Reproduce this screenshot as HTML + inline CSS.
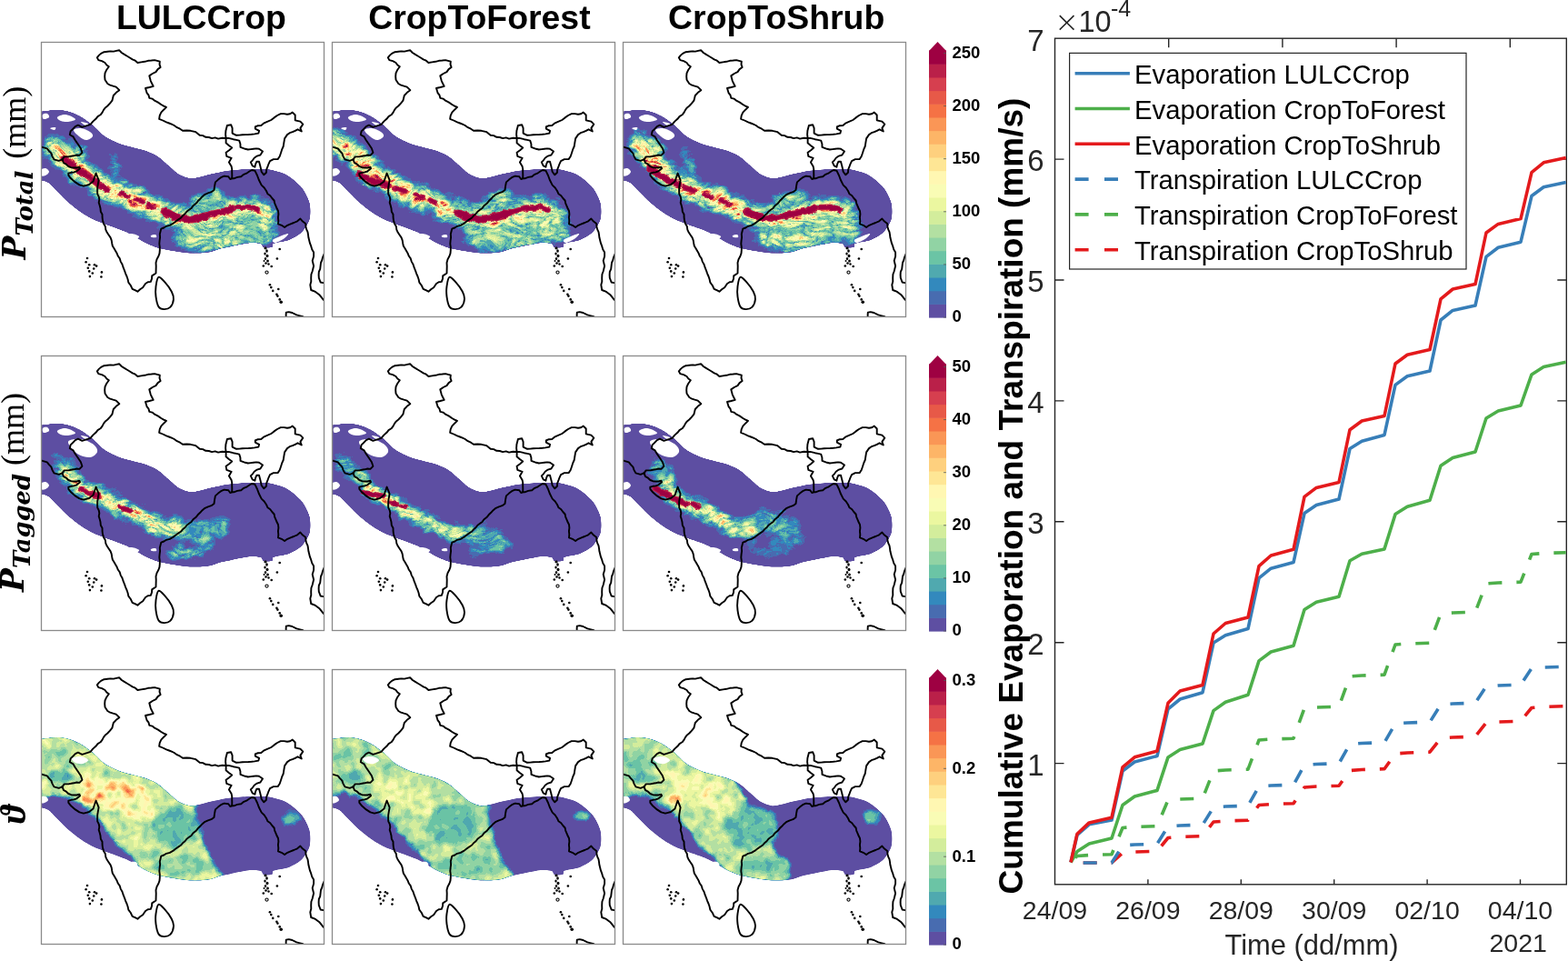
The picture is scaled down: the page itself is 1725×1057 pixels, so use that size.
<!DOCTYPE html>
<html><head><meta charset="utf-8"><title>Figure</title>
<style>html,body{margin:0;padding:0;background:#fff;overflow:hidden}svg{display:block}</style>
</head><body>
<svg width="1725" height="1057" viewBox="0 0 1725 1057">
<rect width="1725" height="1057" fill="#fff"/>

<defs>
<clipPath id="pc"><rect x="0" y="0" width="312" height="303"/></clipPath>
<clipPath id="bc"><path d="M-6.0,77.0 C-5.2,67.0 -3.1,77.3 0.0,77.0 C3.1,76.7 13.1,75.1 17.0,75.0 C20.9,74.9 25.5,75.6 29.0,76.5 C32.5,77.4 39.3,79.9 43.0,82.0 C46.7,84.1 53.4,89.1 57.0,92.0 C60.6,94.9 66.1,101.3 70.0,104.0 C73.9,106.7 82.0,110.4 86.0,112.0 C90.0,113.6 96.1,114.9 100.0,116.0 C103.9,117.1 111.3,118.7 115.0,120.0 C118.7,121.3 124.7,123.9 128.0,126.0 C131.3,128.1 136.8,133.3 140.0,136.0 C143.2,138.7 148.5,144.1 152.0,146.0 C155.5,147.9 161.5,150.5 166.0,150.5 C170.5,150.5 180.7,147.1 186.0,146.0 C191.3,144.9 200.3,142.8 206.0,142.0 C211.7,141.2 223.2,140.5 229.0,140.3 C234.8,140.1 244.1,139.7 249.5,140.5 C254.9,141.3 264.6,143.6 269.6,146.3 C274.6,149.0 283.4,156.4 286.8,160.6 C290.2,164.8 294.3,173.2 295.4,177.8 C296.5,182.4 296.5,190.8 295.4,195.0 C294.3,199.2 289.9,206.2 286.8,209.3 C283.7,212.4 276.5,216.4 272.4,218.0 C268.3,219.6 258.5,220.5 256.0,221.5 C253.5,222.5 255.5,225.2 254.0,225.8 C252.5,226.4 246.6,226.3 245.0,225.8 C243.4,225.3 244.1,222.6 242.0,222.0 C239.9,221.4 234.9,220.4 229.4,221.0 C223.9,221.6 206.4,225.3 200.7,226.6 C195.0,227.9 191.0,230.1 186.4,230.9 C181.8,231.7 172.0,232.5 166.3,232.3 C160.6,232.1 148.4,230.2 143.4,229.4 C138.4,228.6 132.8,227.7 129.0,226.6 C125.2,225.5 119.3,223.1 114.7,220.8 C110.1,218.5 100.3,212.0 94.6,209.3 C88.9,206.6 76.7,202.6 71.7,200.7 C66.7,198.8 61.2,196.9 57.4,195.0 C53.6,193.1 46.8,189.1 43.0,186.4 C39.2,183.7 32.1,178.1 28.7,175.0 C25.3,171.9 19.9,166.2 17.2,163.5 C14.5,160.8 10.9,156.5 8.6,155.0 C6.3,153.5 1.9,152.4 0.0,152.0 C-1.9,151.6 -5.2,162.0 -6.0,152.0 C-6.8,142.0 -6.8,87.0 -6.0,77.0Z"/></clipPath>
<g id="ol"><g fill="none" stroke="#000" stroke-width="1.9" stroke-linejoin="round" stroke-linecap="round"><path d="M23.5,129.4 L25.0,133.2 L27.9,134.7 L30.3,137.0 L33.2,138.2 L36.3,138.5 L39.4,138.5 L42.4,137.7 L43.1,139.3 L39.4,142.3 L36.4,143.4 L33.3,143.8 L30.3,144.6 L30.3,146.8 L33.3,150.6 L37.8,154.4 L42.4,157.4 L46.9,158.6 L49.9,157.8 L53.0,157.0 L57.5,153.6 L58.6,150.2 L59.8,146.8 L60.6,144.6 L62.1,148.3 L63.6,152.1 L62.8,156.7 L62.2,160.3 L62.1,164.0 L62.2,167.3 L63.7,170.3 L64.3,173.5 L63.7,176.9 L64.7,180.0 L65.5,183.3 L65.8,186.7 L67.5,189.8 L67.6,193.3 L68.0,196.6 L69.0,199.9 L70.8,203.0 L71.3,206.6 L72.8,209.8 L74.8,212.8 L76.6,215.4 L77.7,218.3 L78.2,221.5 L78.8,224.5 L80.5,227.2 L82.1,230.0 L83.7,232.8 L84.9,235.8 L86.8,238.4 L87.7,241.6 L89.5,244.8 L90.6,248.2 L92.0,251.6 L93.1,254.8 L94.5,258.0 L95.6,261.2 L96.3,264.6 L98.8,268.0 L100.6,271.8 L103.5,273.2 L106.4,274.7 L109.1,272.3 L112.1,270.3 L115.0,266.0 L117.7,264.3 L120.8,263.9 L122.0,260.7 L122.2,257.4 L126.5,254.5 L126.6,250.7 L126.7,246.8 L126.5,243.0 L127.5,239.2 L129.4,235.8 L130.5,232.6 L130.8,229.2 L130.8,225.8 L130.3,222.2 L130.6,218.6 L131.1,215.0 L130.8,211.4 L132.3,205.6 L135.3,204.5 L138.0,202.8 L141.8,201.9 L145.2,199.9 L148.0,197.7 L151.0,195.6 L153.8,193.8 L156.0,191.3 L158.5,189.3 L160.4,186.7 L163.0,184.8 L165.6,182.9 L167.5,180.3 L170.4,178.1 L172.6,175.3 L175.2,172.8 L177.6,170.2 L180.5,167.8 L183.9,166.3 L187.5,165.2 L190.5,163.0 L191.1,158.7 L191.9,154.4 L195.0,151.6 L198.1,149.2 L201.6,147.6 L206.3,148.3 L208.2,151.0 L210.2,150.3 L210.3,146.7 L210.2,143.0 L210.2,140.0 L209.6,137.0 L206.9,132.4 L209.6,127.8 L204.3,125.8 L203.6,121.8 L207.1,119.3 L210.2,116.5 L206.8,114.0 L203.6,111.2 L203.6,106.0"/><path d="M203.6,106.0 L199.3,105.7 L195.0,106.6 L191.7,105.4 L188.1,106.1 L184.8,105.0 L181.3,104.8 L178.2,103.1 L174.7,102.8 L170.4,99.2 L164.6,97.8 L160.3,97.5 L156.0,97.8 L153.0,95.7 L149.7,94.2 L146.7,92.0 L143.9,90.7 L141.0,89.5 L138.0,88.4 L134.1,86.5 L130.1,84.8 L130.7,81.1 L132.3,77.6 L135.1,74.7 L138.0,71.9 L135.1,70.6 L132.3,69.0 L128.9,66.6 L125.1,64.7 L122.5,62.6 L119.3,61.8 L118.5,58.7 L116.5,56.1 L115.0,51.0 L119.4,50.0 L123.7,48.9 L122.2,46.0 L120.8,43.1 L119.3,37.4 L122.7,35.0 L126.5,33.1 L128.6,30.1 L131.6,28.0 L130.5,24.9 L130.8,21.6 L125.1,20.1 L121.5,20.5 L117.9,20.8 L114.1,21.8 L110.3,22.4 L106.4,23.0 L103.8,20.7 L100.7,19.4 L97.8,17.5 L94.9,15.8 L91.8,13.9 L88.8,12.0 L86.3,9.3 L83.1,9.9 L79.9,10.6 L76.5,10.4 L73.3,10.8 L69.5,11.2 L66.1,12.9 L63.8,14.9 L61.8,17.3 L63.3,20.1 L67.1,21.1 L70.5,23.0 L72.3,25.5 L74.8,27.3 L72.3,30.7 L70.5,34.5 L70.2,38.1 L70.5,41.7 L73.3,46.0 L76.2,47.7 L79.4,48.7 L82.7,49.6 L86.3,53.2 L82.8,55.8 L79.8,59.0 L78.4,64.7 L76.0,67.7 L73.3,70.5 L70.9,72.4 L69.0,74.8 L67.6,77.6 L65.5,80.3 L62.5,82.1 L60.4,84.8 L57.2,87.6 L54.5,90.8 L51.5,91.9 L48.4,92.8 L45.4,93.8 L40.9,91.6 L37.8,93.1 L35.2,95.8 L32.6,98.4 L31.8,102.2 L35.6,104.4 L37.8,108.2 L40.9,112.8 L43.9,117.3 L45.4,121.8 L42.4,124.9 L39.3,124.5 L36.3,125.3 L33.3,125.8 L30.3,126.4 L25.7,126.4 L23.5,129.4"/><path d="M203.6,106.0 L203.1,101.9 L203.4,97.8 L204.9,92.0 L209.2,91.3 L210.6,94.9 L210.6,100.6 L215.0,102.8 L218.3,102.6 L221.7,102.2 L225.0,102.1 L228.4,102.0 L231.7,101.8 L235.1,101.4 L239.4,100.6 L240.1,97.8 L235.8,95.6 L235.8,93.5 L238.9,92.2 L242.3,92.0 L245.6,89.3 L249.5,87.7 L253.3,86.0 L256.6,83.4 L260.0,81.0 L263.8,79.1 L267.4,79.1 L271.0,79.8 L274.1,79.3 L276.8,77.6 L279.7,80.5 L279.7,86.3 L285.4,87.7 L288.3,90.6 L285.4,94.9 L286.8,98.5 L282.5,96.3 L279.7,97.8 L276.8,99.2 L273.7,100.2 L271.0,102.1 L268.1,106.4 L267.4,110.7 L266.7,115.0 L265.1,118.7 L263.9,122.5 L262.7,126.0 L260.6,129.1 L255.9,129.1 L252.0,131.1 L250.5,134.3 L249.3,137.7 L248.1,140.6 L248.0,143.7 L245.3,146.3 L242.7,143.0 L242.1,140.0 L241.4,137.0 L240.0,131.7 L237.4,131.7 L236.1,134.6 L235.4,137.7 L232.7,136.4 L230.8,132.4 L232.9,130.3 L234.7,127.8 L237.8,125.6 L241.4,124.5 L244.0,120.5 L240.0,117.8 L237.0,117.4 L233.9,117.7 L230.9,118.1 L227.8,118.5 L224.8,117.8 L219.5,115.9 L219.4,112.2 L218.2,108.6 L214.9,107.9 L211.6,107.2 L206.3,105.9 L203.6,106.0"/><path d="M210.2,150.3 L212.2,150.3 L216.1,148.9 L220.2,148.3 L223.2,145.8 L226.8,144.3 L229.4,142.5 L232.1,141.0 L235.4,141.7 L238.0,147.0 L240.0,152.3 L242.7,157.6 L245.7,160.5 L248.0,164.0 L249.5,167.3 L252.3,169.3 L254.3,172.0 L256.6,174.5 L257.2,177.6 L258.4,180.4 L259.6,183.3 L261.0,186.0 L261.4,189.6 L260.9,193.2 L261.3,196.8 L261.0,200.4 L264.8,201.8 L268.1,204.0 L271.2,201.8 L274.7,200.3 L278.2,199.0 L282.1,197.3 L285.4,194.6 L288.0,197.6 L291.2,199.9 L291.4,203.1 L292.1,206.1 L293.5,209.1 L294.0,212.2 L294.4,215.3 L295.2,218.5 L296.0,221.7 L297.2,224.7 L298.2,228.2 L300.1,231.4 L300.1,236.1 L298.7,240.8 L300.1,246.5 L298.7,252.2 L297.4,255.8 L297.2,259.7 L297.3,263.6 L296.3,267.3 L297.2,273.0 L302.0,274.9 L306.7,278.6 L308.7,281.2 L310.7,283.7 L313.0,286.0"/><path d="M-1.0,115.5 L1.5,115.8 L6.8,117.3 L9.0,120.1 L11.4,122.6 L12.6,126.1 L14.4,129.4 L19.7,130.9 L23.5,129.4"/><path d="M313.0,231.0 L311.4,233.8 L310.1,236.8 L309.3,240.0 L308.0,243.0 L307.6,246.4 L307.2,249.8 L305.8,253.0 L305.6,256.4 L305.8,259.7 L307.6,264.5 L313.0,265.6"/><path d="M269.8,304.0 L269.6,300.8 L269.8,297.6 L272.7,297.1 L276.4,298.0 L281.2,300.4 L285.0,301.3 L288.2,302.2 L291.0,304.0"/><path d="M129.4,258.8 C131.1,258.1 134.2,262.0 136.6,264.6 C139.0,267.2 142.2,271.6 143.8,274.7 C145.4,277.8 146.2,280.4 145.9,283.3 C145.7,286.2 144.1,290.1 142.3,291.9 C140.5,293.7 137.3,294.2 135.2,294.1 C133.0,294.0 130.8,293.5 129.4,291.2 C128.0,288.9 127.0,284.1 126.5,280.4 C126.0,276.7 126.0,272.5 126.5,268.9 C127.0,265.3 127.7,259.5 129.4,258.8Z"/></g><g fill="#000"><circle cx="51.0" cy="238.0" r="1.3"/><circle cx="49.6" cy="242.3" r="1.3"/><circle cx="53.2" cy="245.2" r="1.3"/><circle cx="59.0" cy="245.2" r="1.3"/><circle cx="61.1" cy="246.6" r="1.3"/><circle cx="51.8" cy="248.8" r="1.3"/><circle cx="58.2" cy="249.5" r="1.3"/><circle cx="53.2" cy="252.4" r="1.3"/><circle cx="56.8" cy="254.5" r="1.3"/><circle cx="66.9" cy="253.4" r="1.3"/><circle cx="53.9" cy="258.1" r="1.3"/><circle cx="66.4" cy="258.5" r="1.3"/><circle cx="262.7" cy="228.0" r="1.3"/><circle cx="259.9" cy="238.5" r="1.3"/><circle cx="244.8" cy="246.5" r="1.3"/><circle cx="253.7" cy="247.0" r="1.3"/><circle cx="251.9" cy="267.3" r="1.3"/><circle cx="253.3" cy="270.1" r="1.3"/><circle cx="255.2" cy="273.9" r="1.3"/><circle cx="261.3" cy="272.0" r="1.3"/><circle cx="259.4" cy="277.7" r="1.3"/><circle cx="260.4" cy="279.6" r="1.3"/><circle cx="262.7" cy="283.4" r="1.3"/><ellipse cx="247.0" cy="227.0" rx="1.6" ry="1.4"/><ellipse cx="248.5" cy="230.0" rx="1.3" ry="1.8"/><ellipse cx="246.5" cy="233.0" rx="1.2" ry="1.6"/><ellipse cx="249.0" cy="235.5" rx="1.5" ry="1.8"/><ellipse cx="247.0" cy="238.5" rx="1.2" ry="1.5"/><ellipse cx="249.5" cy="241.0" rx="1.4" ry="1.6"/><ellipse cx="247.5" cy="243.5" rx="1.3" ry="1.3"/><ellipse cx="250.5" cy="244.5" rx="1.2" ry="1.2"/><ellipse cx="245.5" cy="241.0" rx="1.0" ry="1.0"/><circle cx="264.2" cy="286.2" r="1.8"/></g><circle cx="248.5" cy="253.6" r="1.6" fill="none" stroke="#000" stroke-width="1.1"/></g>
<filter id="cm0" x="-0.05" y="-0.05" width="1.1" height="1.1" color-interpolation-filters="sRGB">
<feTurbulence type="turbulence" baseFrequency="0.07 0.16" numOctaves="3" seed="3" result="n0"/>
<feTurbulence type="fractalNoise" baseFrequency="0.035" numOctaves="1" seed="53" result="w"/>
<feDisplacementMap in="n0" in2="w" scale="30" xChannelSelector="R" yChannelSelector="G" result="n1"/>
<feColorMatrix in="n1" type="matrix" values="1 0 0 0 0 1 0 0 0 0 1 0 0 0 0 0 0 0 0 1" result="ng"/>
<feComposite in="SourceGraphic" in2="ng" operator="arithmetic" k1="2.20" k2="0.45" k3="0" k4="0" result="m"/>
<feComponentTransfer in="m"><feFuncR type="discrete" tableValues="0.3686 0.2824 0.2000 0.3137 0.4196 0.5686 0.7020 0.8275 0.9216 0.9765 1.0000 0.9961 0.9961 0.9922 0.9804 0.9608 0.9059 0.8392 0.7294 0.6196"/><feFuncG type="discrete" tableValues="0.3098 0.4235 0.5373 0.6627 0.7686 0.8275 0.8784 0.9294 0.9686 0.9882 0.9686 0.9020 0.8157 0.7098 0.5882 0.4471 0.3490 0.2471 0.1255 0.0039"/><feFuncB type="discrete" tableValues="0.6353 0.6902 0.7412 0.6863 0.6471 0.6431 0.6353 0.6118 0.6275 0.7098 0.6980 0.5843 0.4941 0.4039 0.3373 0.2706 0.2824 0.3098 0.2863 0.2588"/></feComponentTransfer>
</filter>
<filter id="bd0" x="-0.1" y="-0.1" width="1.2" height="1.2" color-interpolation-filters="sRGB">
<feGaussianBlur in="SourceGraphic" stdDeviation="3.5" result="b"/>
<feTurbulence type="turbulence" baseFrequency="0.05 0.08" numOctaves="2" seed="23" result="t"/>
<feDisplacementMap in="b" in2="t" scale="10" xChannelSelector="R" yChannelSelector="G"/>
</filter>
<filter id="cm1" x="-0.05" y="-0.05" width="1.1" height="1.1" color-interpolation-filters="sRGB">
<feTurbulence type="turbulence" baseFrequency="0.07 0.16" numOctaves="3" seed="7" result="n0"/>
<feTurbulence type="fractalNoise" baseFrequency="0.035" numOctaves="1" seed="57" result="w"/>
<feDisplacementMap in="n0" in2="w" scale="30" xChannelSelector="R" yChannelSelector="G" result="n1"/>
<feColorMatrix in="n1" type="matrix" values="1 0 0 0 0 1 0 0 0 0 1 0 0 0 0 0 0 0 0 1" result="ng"/>
<feComposite in="SourceGraphic" in2="ng" operator="arithmetic" k1="2.20" k2="0.45" k3="0" k4="0" result="m"/>
<feComponentTransfer in="m"><feFuncR type="discrete" tableValues="0.3686 0.2824 0.2000 0.3137 0.4196 0.5686 0.7020 0.8275 0.9216 0.9765 1.0000 0.9961 0.9961 0.9922 0.9804 0.9608 0.9059 0.8392 0.7294 0.6196"/><feFuncG type="discrete" tableValues="0.3098 0.4235 0.5373 0.6627 0.7686 0.8275 0.8784 0.9294 0.9686 0.9882 0.9686 0.9020 0.8157 0.7098 0.5882 0.4471 0.3490 0.2471 0.1255 0.0039"/><feFuncB type="discrete" tableValues="0.6353 0.6902 0.7412 0.6863 0.6471 0.6431 0.6353 0.6118 0.6275 0.7098 0.6980 0.5843 0.4941 0.4039 0.3373 0.2706 0.2824 0.3098 0.2863 0.2588"/></feComponentTransfer>
</filter>
<filter id="bd1" x="-0.1" y="-0.1" width="1.2" height="1.2" color-interpolation-filters="sRGB">
<feGaussianBlur in="SourceGraphic" stdDeviation="3.5" result="b"/>
<feTurbulence type="turbulence" baseFrequency="0.05 0.08" numOctaves="2" seed="27" result="t"/>
<feDisplacementMap in="b" in2="t" scale="10" xChannelSelector="R" yChannelSelector="G"/>
</filter>
<filter id="cm2" x="-0.05" y="-0.05" width="1.1" height="1.1" color-interpolation-filters="sRGB">
<feTurbulence type="turbulence" baseFrequency="0.07 0.16" numOctaves="3" seed="11" result="n0"/>
<feTurbulence type="fractalNoise" baseFrequency="0.035" numOctaves="1" seed="61" result="w"/>
<feDisplacementMap in="n0" in2="w" scale="30" xChannelSelector="R" yChannelSelector="G" result="n1"/>
<feColorMatrix in="n1" type="matrix" values="1 0 0 0 0 1 0 0 0 0 1 0 0 0 0 0 0 0 0 1" result="ng"/>
<feComposite in="SourceGraphic" in2="ng" operator="arithmetic" k1="2.20" k2="0.45" k3="0" k4="0" result="m"/>
<feComponentTransfer in="m"><feFuncR type="discrete" tableValues="0.3686 0.2824 0.2000 0.3137 0.4196 0.5686 0.7020 0.8275 0.9216 0.9765 1.0000 0.9961 0.9961 0.9922 0.9804 0.9608 0.9059 0.8392 0.7294 0.6196"/><feFuncG type="discrete" tableValues="0.3098 0.4235 0.5373 0.6627 0.7686 0.8275 0.8784 0.9294 0.9686 0.9882 0.9686 0.9020 0.8157 0.7098 0.5882 0.4471 0.3490 0.2471 0.1255 0.0039"/><feFuncB type="discrete" tableValues="0.6353 0.6902 0.7412 0.6863 0.6471 0.6431 0.6353 0.6118 0.6275 0.7098 0.6980 0.5843 0.4941 0.4039 0.3373 0.2706 0.2824 0.3098 0.2863 0.2588"/></feComponentTransfer>
</filter>
<filter id="bd2" x="-0.1" y="-0.1" width="1.2" height="1.2" color-interpolation-filters="sRGB">
<feGaussianBlur in="SourceGraphic" stdDeviation="3.5" result="b"/>
<feTurbulence type="turbulence" baseFrequency="0.05 0.08" numOctaves="2" seed="31" result="t"/>
<feDisplacementMap in="b" in2="t" scale="10" xChannelSelector="R" yChannelSelector="G"/>
</filter>
<filter id="cm3" x="-0.05" y="-0.05" width="1.1" height="1.1" color-interpolation-filters="sRGB">
<feTurbulence type="turbulence" baseFrequency="0.07 0.16" numOctaves="3" seed="5" result="n0"/>
<feTurbulence type="fractalNoise" baseFrequency="0.035" numOctaves="1" seed="55" result="w"/>
<feDisplacementMap in="n0" in2="w" scale="30" xChannelSelector="R" yChannelSelector="G" result="n1"/>
<feColorMatrix in="n1" type="matrix" values="1 0 0 0 0 1 0 0 0 0 1 0 0 0 0 0 0 0 0 1" result="ng"/>
<feComposite in="SourceGraphic" in2="ng" operator="arithmetic" k1="2.20" k2="0.45" k3="0" k4="0" result="m"/>
<feComponentTransfer in="m"><feFuncR type="discrete" tableValues="0.3686 0.2824 0.2000 0.3137 0.4196 0.5686 0.7020 0.8275 0.9216 0.9765 1.0000 0.9961 0.9961 0.9922 0.9804 0.9608 0.9059 0.8392 0.7294 0.6196"/><feFuncG type="discrete" tableValues="0.3098 0.4235 0.5373 0.6627 0.7686 0.8275 0.8784 0.9294 0.9686 0.9882 0.9686 0.9020 0.8157 0.7098 0.5882 0.4471 0.3490 0.2471 0.1255 0.0039"/><feFuncB type="discrete" tableValues="0.6353 0.6902 0.7412 0.6863 0.6471 0.6431 0.6353 0.6118 0.6275 0.7098 0.6980 0.5843 0.4941 0.4039 0.3373 0.2706 0.2824 0.3098 0.2863 0.2588"/></feComponentTransfer>
</filter>
<filter id="bd3" x="-0.1" y="-0.1" width="1.2" height="1.2" color-interpolation-filters="sRGB">
<feGaussianBlur in="SourceGraphic" stdDeviation="3.5" result="b"/>
<feTurbulence type="turbulence" baseFrequency="0.05 0.08" numOctaves="2" seed="25" result="t"/>
<feDisplacementMap in="b" in2="t" scale="10" xChannelSelector="R" yChannelSelector="G"/>
</filter>
<filter id="cm4" x="-0.05" y="-0.05" width="1.1" height="1.1" color-interpolation-filters="sRGB">
<feTurbulence type="turbulence" baseFrequency="0.07 0.16" numOctaves="3" seed="9" result="n0"/>
<feTurbulence type="fractalNoise" baseFrequency="0.035" numOctaves="1" seed="59" result="w"/>
<feDisplacementMap in="n0" in2="w" scale="30" xChannelSelector="R" yChannelSelector="G" result="n1"/>
<feColorMatrix in="n1" type="matrix" values="1 0 0 0 0 1 0 0 0 0 1 0 0 0 0 0 0 0 0 1" result="ng"/>
<feComposite in="SourceGraphic" in2="ng" operator="arithmetic" k1="2.20" k2="0.45" k3="0" k4="0" result="m"/>
<feComponentTransfer in="m"><feFuncR type="discrete" tableValues="0.3686 0.2824 0.2000 0.3137 0.4196 0.5686 0.7020 0.8275 0.9216 0.9765 1.0000 0.9961 0.9961 0.9922 0.9804 0.9608 0.9059 0.8392 0.7294 0.6196"/><feFuncG type="discrete" tableValues="0.3098 0.4235 0.5373 0.6627 0.7686 0.8275 0.8784 0.9294 0.9686 0.9882 0.9686 0.9020 0.8157 0.7098 0.5882 0.4471 0.3490 0.2471 0.1255 0.0039"/><feFuncB type="discrete" tableValues="0.6353 0.6902 0.7412 0.6863 0.6471 0.6431 0.6353 0.6118 0.6275 0.7098 0.6980 0.5843 0.4941 0.4039 0.3373 0.2706 0.2824 0.3098 0.2863 0.2588"/></feComponentTransfer>
</filter>
<filter id="bd4" x="-0.1" y="-0.1" width="1.2" height="1.2" color-interpolation-filters="sRGB">
<feGaussianBlur in="SourceGraphic" stdDeviation="3.5" result="b"/>
<feTurbulence type="turbulence" baseFrequency="0.05 0.08" numOctaves="2" seed="29" result="t"/>
<feDisplacementMap in="b" in2="t" scale="10" xChannelSelector="R" yChannelSelector="G"/>
</filter>
<filter id="cm5" x="-0.05" y="-0.05" width="1.1" height="1.1" color-interpolation-filters="sRGB">
<feTurbulence type="turbulence" baseFrequency="0.07 0.16" numOctaves="3" seed="13" result="n0"/>
<feTurbulence type="fractalNoise" baseFrequency="0.035" numOctaves="1" seed="63" result="w"/>
<feDisplacementMap in="n0" in2="w" scale="30" xChannelSelector="R" yChannelSelector="G" result="n1"/>
<feColorMatrix in="n1" type="matrix" values="1 0 0 0 0 1 0 0 0 0 1 0 0 0 0 0 0 0 0 1" result="ng"/>
<feComposite in="SourceGraphic" in2="ng" operator="arithmetic" k1="2.20" k2="0.45" k3="0" k4="0" result="m"/>
<feComponentTransfer in="m"><feFuncR type="discrete" tableValues="0.3686 0.2824 0.2000 0.3137 0.4196 0.5686 0.7020 0.8275 0.9216 0.9765 1.0000 0.9961 0.9961 0.9922 0.9804 0.9608 0.9059 0.8392 0.7294 0.6196"/><feFuncG type="discrete" tableValues="0.3098 0.4235 0.5373 0.6627 0.7686 0.8275 0.8784 0.9294 0.9686 0.9882 0.9686 0.9020 0.8157 0.7098 0.5882 0.4471 0.3490 0.2471 0.1255 0.0039"/><feFuncB type="discrete" tableValues="0.6353 0.6902 0.7412 0.6863 0.6471 0.6431 0.6353 0.6118 0.6275 0.7098 0.6980 0.5843 0.4941 0.4039 0.3373 0.2706 0.2824 0.3098 0.2863 0.2588"/></feComponentTransfer>
</filter>
<filter id="bd5" x="-0.1" y="-0.1" width="1.2" height="1.2" color-interpolation-filters="sRGB">
<feGaussianBlur in="SourceGraphic" stdDeviation="3.5" result="b"/>
<feTurbulence type="turbulence" baseFrequency="0.05 0.08" numOctaves="2" seed="33" result="t"/>
<feDisplacementMap in="b" in2="t" scale="10" xChannelSelector="R" yChannelSelector="G"/>
</filter>
<filter id="cm6" x="-0.05" y="-0.05" width="1.1" height="1.1" color-interpolation-filters="sRGB">
<feTurbulence type="fractalNoise" baseFrequency="0.09 0.09" numOctaves="2" seed="2" result="n"/>
<feColorMatrix in="n" type="matrix" values="1 0 0 0 0 1 0 0 0 0 1 0 0 0 0 0 0 0 0 1" result="ng"/>
<feComposite in="SourceGraphic" in2="ng" operator="arithmetic" k1="1.00" k2="0.50" k3="0" k4="0" result="m"/>
<feComponentTransfer in="m"><feFuncR type="discrete" tableValues="0.3686 0.2824 0.2000 0.3137 0.4196 0.5686 0.7020 0.8275 0.9216 0.9765 1.0000 0.9961 0.9961 0.9922 0.9804 0.9608 0.9059 0.8392 0.7294 0.6196"/><feFuncG type="discrete" tableValues="0.3098 0.4235 0.5373 0.6627 0.7686 0.8275 0.8784 0.9294 0.9686 0.9882 0.9686 0.9020 0.8157 0.7098 0.5882 0.4471 0.3490 0.2471 0.1255 0.0039"/><feFuncB type="discrete" tableValues="0.6353 0.6902 0.7412 0.6863 0.6471 0.6431 0.6353 0.6118 0.6275 0.7098 0.6980 0.5843 0.4941 0.4039 0.3373 0.2706 0.2824 0.3098 0.2863 0.2588"/></feComponentTransfer>
</filter>
<filter id="bd6" x="-0.1" y="-0.1" width="1.2" height="1.2" color-interpolation-filters="sRGB">
<feGaussianBlur in="SourceGraphic" stdDeviation="2.2" result="b"/>
<feTurbulence type="turbulence" baseFrequency="0.05 0.05" numOctaves="2" seed="22" result="t"/>
<feDisplacementMap in="b" in2="t" scale="8" xChannelSelector="R" yChannelSelector="G"/>
</filter>
<filter id="cm7" x="-0.05" y="-0.05" width="1.1" height="1.1" color-interpolation-filters="sRGB">
<feTurbulence type="fractalNoise" baseFrequency="0.09 0.09" numOctaves="2" seed="4" result="n"/>
<feColorMatrix in="n" type="matrix" values="1 0 0 0 0 1 0 0 0 0 1 0 0 0 0 0 0 0 0 1" result="ng"/>
<feComposite in="SourceGraphic" in2="ng" operator="arithmetic" k1="1.00" k2="0.50" k3="0" k4="0" result="m"/>
<feComponentTransfer in="m"><feFuncR type="discrete" tableValues="0.3686 0.2824 0.2000 0.3137 0.4196 0.5686 0.7020 0.8275 0.9216 0.9765 1.0000 0.9961 0.9961 0.9922 0.9804 0.9608 0.9059 0.8392 0.7294 0.6196"/><feFuncG type="discrete" tableValues="0.3098 0.4235 0.5373 0.6627 0.7686 0.8275 0.8784 0.9294 0.9686 0.9882 0.9686 0.9020 0.8157 0.7098 0.5882 0.4471 0.3490 0.2471 0.1255 0.0039"/><feFuncB type="discrete" tableValues="0.6353 0.6902 0.7412 0.6863 0.6471 0.6431 0.6353 0.6118 0.6275 0.7098 0.6980 0.5843 0.4941 0.4039 0.3373 0.2706 0.2824 0.3098 0.2863 0.2588"/></feComponentTransfer>
</filter>
<filter id="bd7" x="-0.1" y="-0.1" width="1.2" height="1.2" color-interpolation-filters="sRGB">
<feGaussianBlur in="SourceGraphic" stdDeviation="2.2" result="b"/>
<feTurbulence type="turbulence" baseFrequency="0.05 0.05" numOctaves="2" seed="24" result="t"/>
<feDisplacementMap in="b" in2="t" scale="8" xChannelSelector="R" yChannelSelector="G"/>
</filter>
<filter id="cm8" x="-0.05" y="-0.05" width="1.1" height="1.1" color-interpolation-filters="sRGB">
<feTurbulence type="fractalNoise" baseFrequency="0.09 0.09" numOctaves="2" seed="6" result="n"/>
<feColorMatrix in="n" type="matrix" values="1 0 0 0 0 1 0 0 0 0 1 0 0 0 0 0 0 0 0 1" result="ng"/>
<feComposite in="SourceGraphic" in2="ng" operator="arithmetic" k1="1.00" k2="0.50" k3="0" k4="0" result="m"/>
<feComponentTransfer in="m"><feFuncR type="discrete" tableValues="0.3686 0.2824 0.2000 0.3137 0.4196 0.5686 0.7020 0.8275 0.9216 0.9765 1.0000 0.9961 0.9961 0.9922 0.9804 0.9608 0.9059 0.8392 0.7294 0.6196"/><feFuncG type="discrete" tableValues="0.3098 0.4235 0.5373 0.6627 0.7686 0.8275 0.8784 0.9294 0.9686 0.9882 0.9686 0.9020 0.8157 0.7098 0.5882 0.4471 0.3490 0.2471 0.1255 0.0039"/><feFuncB type="discrete" tableValues="0.6353 0.6902 0.7412 0.6863 0.6471 0.6431 0.6353 0.6118 0.6275 0.7098 0.6980 0.5843 0.4941 0.4039 0.3373 0.2706 0.2824 0.3098 0.2863 0.2588"/></feComponentTransfer>
</filter>
<filter id="bd8" x="-0.1" y="-0.1" width="1.2" height="1.2" color-interpolation-filters="sRGB">
<feGaussianBlur in="SourceGraphic" stdDeviation="2.2" result="b"/>
<feTurbulence type="turbulence" baseFrequency="0.05 0.05" numOctaves="2" seed="26" result="t"/>
<feDisplacementMap in="b" in2="t" scale="8" xChannelSelector="R" yChannelSelector="G"/>
</filter>
<filter id="cf0" x="-0.1" y="-0.1" width="1.2" height="1.2"><feTurbulence type="fractalNoise" baseFrequency="0.15" numOctaves="2" seed="40" result="t"/><feDisplacementMap in="SourceGraphic" in2="t" scale="5" xChannelSelector="R" yChannelSelector="G"/></filter>
<filter id="cf1" x="-0.1" y="-0.1" width="1.2" height="1.2"><feTurbulence type="fractalNoise" baseFrequency="0.15" numOctaves="2" seed="41" result="t"/><feDisplacementMap in="SourceGraphic" in2="t" scale="5" xChannelSelector="R" yChannelSelector="G"/></filter>
<filter id="cf2" x="-0.1" y="-0.1" width="1.2" height="1.2"><feTurbulence type="fractalNoise" baseFrequency="0.15" numOctaves="2" seed="42" result="t"/><feDisplacementMap in="SourceGraphic" in2="t" scale="5" xChannelSelector="R" yChannelSelector="G"/></filter>
<filter id="cf3" x="-0.1" y="-0.1" width="1.2" height="1.2"><feTurbulence type="fractalNoise" baseFrequency="0.15" numOctaves="2" seed="43" result="t"/><feDisplacementMap in="SourceGraphic" in2="t" scale="5" xChannelSelector="R" yChannelSelector="G"/></filter>
<filter id="cf4" x="-0.1" y="-0.1" width="1.2" height="1.2"><feTurbulence type="fractalNoise" baseFrequency="0.15" numOctaves="2" seed="44" result="t"/><feDisplacementMap in="SourceGraphic" in2="t" scale="5" xChannelSelector="R" yChannelSelector="G"/></filter>
<filter id="cf5" x="-0.1" y="-0.1" width="1.2" height="1.2"><feTurbulence type="fractalNoise" baseFrequency="0.15" numOctaves="2" seed="45" result="t"/><feDisplacementMap in="SourceGraphic" in2="t" scale="5" xChannelSelector="R" yChannelSelector="G"/></filter>
<filter id="cf6" x="-0.1" y="-0.1" width="1.2" height="1.2"><feTurbulence type="fractalNoise" baseFrequency="0.15" numOctaves="2" seed="46" result="t"/><feDisplacementMap in="SourceGraphic" in2="t" scale="5" xChannelSelector="R" yChannelSelector="G"/></filter>
<filter id="cf7" x="-0.1" y="-0.1" width="1.2" height="1.2"><feTurbulence type="fractalNoise" baseFrequency="0.15" numOctaves="2" seed="47" result="t"/><feDisplacementMap in="SourceGraphic" in2="t" scale="5" xChannelSelector="R" yChannelSelector="G"/></filter>
<filter id="cf8" x="-0.1" y="-0.1" width="1.2" height="1.2"><feTurbulence type="fractalNoise" baseFrequency="0.15" numOctaves="2" seed="48" result="t"/><feDisplacementMap in="SourceGraphic" in2="t" scale="5" xChannelSelector="R" yChannelSelector="G"/></filter>
</defs>
<g transform="translate(45,46)"><g clip-path="url(#pc)">
<g filter="url(#cm0)"><path d="M-6.0,77.0 C-5.2,67.0 -3.1,77.3 0.0,77.0 C3.1,76.7 13.1,75.1 17.0,75.0 C20.9,74.9 25.5,75.6 29.0,76.5 C32.5,77.4 39.3,79.9 43.0,82.0 C46.7,84.1 53.4,89.1 57.0,92.0 C60.6,94.9 66.1,101.3 70.0,104.0 C73.9,106.7 82.0,110.4 86.0,112.0 C90.0,113.6 96.1,114.9 100.0,116.0 C103.9,117.1 111.3,118.7 115.0,120.0 C118.7,121.3 124.7,123.9 128.0,126.0 C131.3,128.1 136.8,133.3 140.0,136.0 C143.2,138.7 148.5,144.1 152.0,146.0 C155.5,147.9 161.5,150.5 166.0,150.5 C170.5,150.5 180.7,147.1 186.0,146.0 C191.3,144.9 200.3,142.8 206.0,142.0 C211.7,141.2 223.2,140.5 229.0,140.3 C234.8,140.1 244.1,139.7 249.5,140.5 C254.9,141.3 264.6,143.6 269.6,146.3 C274.6,149.0 283.4,156.4 286.8,160.6 C290.2,164.8 294.3,173.2 295.4,177.8 C296.5,182.4 296.5,190.8 295.4,195.0 C294.3,199.2 289.9,206.2 286.8,209.3 C283.7,212.4 276.5,216.4 272.4,218.0 C268.3,219.6 258.5,220.5 256.0,221.5 C253.5,222.5 255.5,225.2 254.0,225.8 C252.5,226.4 246.6,226.3 245.0,225.8 C243.4,225.3 244.1,222.6 242.0,222.0 C239.9,221.4 234.9,220.4 229.4,221.0 C223.9,221.6 206.4,225.3 200.7,226.6 C195.0,227.9 191.0,230.1 186.4,230.9 C181.8,231.7 172.0,232.5 166.3,232.3 C160.6,232.1 148.4,230.2 143.4,229.4 C138.4,228.6 132.8,227.7 129.0,226.6 C125.2,225.5 119.3,223.1 114.7,220.8 C110.1,218.5 100.3,212.0 94.6,209.3 C88.9,206.6 76.7,202.6 71.7,200.7 C66.7,198.8 61.2,196.9 57.4,195.0 C53.6,193.1 46.8,189.1 43.0,186.4 C39.2,183.7 32.1,178.1 28.7,175.0 C25.3,171.9 19.9,166.2 17.2,163.5 C14.5,160.8 10.9,156.5 8.6,155.0 C6.3,153.5 1.9,152.4 0.0,152.0 C-1.9,151.6 -5.2,162.0 -6.0,152.0 C-6.8,142.0 -6.8,87.0 -6.0,77.0Z" fill="#000"/><g clip-path="url(#bc)"><g filter="url(#bd0)"><ellipse cx="202.0" cy="206.0" rx="58.0" ry="21.0" transform="rotate(-6.0 202.0 206.0)" fill="#333333" opacity="1.00"/><ellipse cx="200.0" cy="178.0" rx="50.0" ry="9.0" transform="rotate(-4.0 200.0 178.0)" fill="#2e2e2e" opacity="1.00"/><ellipse cx="168.0" cy="213.0" rx="24.0" ry="4.0" transform="rotate(-14.0 168.0 213.0)" fill="#616161" opacity="1.00"/><ellipse cx="232.0" cy="200.0" rx="20.0" ry="4.0" transform="rotate(-4.0 232.0 200.0)" fill="#575757" opacity="1.00"/><ellipse cx="205.0" cy="212.0" rx="18.0" ry="3.5" transform="rotate(-20.0 205.0 212.0)" fill="#525252" opacity="1.00"/><ellipse cx="190.0" cy="222.0" rx="22.0" ry="3.5" transform="rotate(-10.0 190.0 222.0)" fill="#4c4c4c" opacity="1.00"/><ellipse cx="245.0" cy="210.0" rx="10.0" ry="5.0" transform="rotate(30.0 245.0 210.0)" fill="#474747" opacity="1.00"/><path d="M14.0,118.0 C16.0,119.5 21.7,123.5 26.0,127.0 C30.3,130.5 35.3,135.3 40.0,139.0 C44.7,142.7 49.3,145.8 54.0,149.0 C58.7,152.2 62.7,155.2 68.0,158.0 C73.3,160.8 80.0,163.5 86.0,166.0 C92.0,168.5 98.0,170.7 104.0,173.0 C110.0,175.3 116.3,177.7 122.0,180.0 C127.7,182.3 133.0,185.0 138.0,187.0 C143.0,189.0 149.7,191.2 152.0,192.0" fill="none" stroke="#383838" stroke-width="26.0" stroke-linecap="round" stroke-linejoin="round" opacity="1.00"/><path d="M14.0,118.0 C16.0,119.5 21.7,123.5 26.0,127.0 C30.3,130.5 35.3,135.3 40.0,139.0 C44.7,142.7 49.3,145.8 54.0,149.0 C58.7,152.2 62.7,155.2 68.0,158.0 C73.3,160.8 80.0,163.5 86.0,166.0 C92.0,168.5 98.0,170.7 104.0,173.0 C110.0,175.3 116.3,177.7 122.0,180.0 C127.7,182.3 133.0,185.0 138.0,187.0 C143.0,189.0 149.7,191.2 152.0,192.0" fill="none" stroke="#707070" stroke-width="15.0" stroke-linecap="round" stroke-linejoin="round" opacity="1.00"/><path d="M14.0,118.0 C16.0,119.5 21.7,123.5 26.0,127.0 C30.3,130.5 35.3,135.3 40.0,139.0 C44.7,142.7 49.3,145.8 54.0,149.0 C58.7,152.2 62.7,155.2 68.0,158.0 C73.3,160.8 80.0,163.5 86.0,166.0 C92.0,168.5 98.0,170.7 104.0,173.0 C110.0,175.3 116.3,177.7 122.0,180.0 C127.7,182.3 133.0,185.0 138.0,187.0 C143.0,189.0 149.7,191.2 152.0,192.0" fill="none" stroke="#a3a3a3" stroke-width="8.0" stroke-linecap="round" stroke-linejoin="round" opacity="1.00"/><path d="M140.0,189.0 C143.0,189.8 152.0,193.3 158.0,194.0 C164.0,194.7 170.0,194.0 176.0,193.0 C182.0,192.0 188.0,189.5 194.0,188.0 C200.0,186.5 206.0,185.0 212.0,184.0 C218.0,183.0 224.3,181.7 230.0,182.0 C235.7,182.3 243.3,185.3 246.0,186.0" fill="none" stroke="#424242" stroke-width="18.0" stroke-linecap="round" stroke-linejoin="round" opacity="1.00"/><path d="M140.0,189.0 C143.0,189.8 152.0,193.3 158.0,194.0 C164.0,194.7 170.0,194.0 176.0,193.0 C182.0,192.0 188.0,189.5 194.0,188.0 C200.0,186.5 206.0,185.0 212.0,184.0 C218.0,183.0 224.3,181.7 230.0,182.0 C235.7,182.3 243.3,185.3 246.0,186.0" fill="none" stroke="#808080" stroke-width="8.0" stroke-linecap="round" stroke-linejoin="round" opacity="1.00"/><path d="M10.0,106.0 C12.5,107.0 19.7,109.3 25.0,112.0 C30.3,114.7 39.2,120.3 42.0,122.0" fill="none" stroke="#4c4c4c" stroke-width="9.0" stroke-linecap="round" stroke-linejoin="round" opacity="1.00"/><path d="M78.0,123.0 C78.3,125.0 79.5,131.3 80.0,135.0 C80.5,138.7 80.8,143.3 81.0,145.0" fill="none" stroke="#4c4c4c" stroke-width="4.0" stroke-linecap="round" stroke-linejoin="round" opacity="1.00"/><ellipse cx="180.0" cy="170.0" rx="20.0" ry="5.0" transform="rotate(-20.0 180.0 170.0)" fill="#4c4c4c" opacity="1.00"/></g></g></g>
<g clip-path="url(#bc)"><g filter="url(#cf0)" fill="none" stroke-linecap="round" stroke-linejoin="round">
<path d="M24.0,128.0 C25.7,129.2 30.7,132.5 34.0,135.0 C37.3,137.5 40.5,140.5 44.0,143.0 C47.5,145.5 51.8,147.8 55.0,150.0 C58.2,152.2 61.7,155.0 63.0,156.0" stroke="#ba2049" stroke-width="7.0"/>
<path d="M66.0,159.0 L74.0,163.0" stroke="#ba2049" stroke-width="6.0"/>
<path d="M88.0,167.0 L96.0,170.0" stroke="#ba2049" stroke-width="5.5"/>
<path d="M104.0,173.0 L112.0,176.0" stroke="#ba2049" stroke-width="5.5"/>
<path d="M118.0,179.0 L124.0,182.0" stroke="#ba2049" stroke-width="5.5"/>
<path d="M136.0,187.0 C138.3,188.0 145.0,191.7 150.0,193.0 C155.0,194.3 161.0,195.2 166.0,195.0 C171.0,194.8 177.7,192.5 180.0,192.0" stroke="#ba2049" stroke-width="9.0"/>
<path d="M184.0,190.0 C186.3,189.5 193.5,188.2 198.0,187.0 C202.5,185.8 208.8,183.7 211.0,183.0" stroke="#ba2049" stroke-width="7.5"/>
<path d="M216.0,182.0 C218.3,182.0 226.3,181.5 230.0,182.0 C233.7,182.5 236.7,184.5 238.0,185.0" stroke="#ba2049" stroke-width="6.0"/>
<path d="M24.0,128.0 C25.7,129.2 30.7,132.5 34.0,135.0 C37.3,137.5 40.5,140.5 44.0,143.0 C47.5,145.5 51.8,147.8 55.0,150.0 C58.2,152.2 61.7,155.0 63.0,156.0" stroke="#9e0142" stroke-width="4.5"/>
<path d="M66.0,159.0 L74.0,163.0" stroke="#9e0142" stroke-width="3.5"/>
<path d="M88.0,167.0 L96.0,170.0" stroke="#9e0142" stroke-width="3.0"/>
<path d="M104.0,173.0 L112.0,176.0" stroke="#9e0142" stroke-width="3.0"/>
<path d="M118.0,179.0 L124.0,182.0" stroke="#9e0142" stroke-width="3.0"/>
<path d="M136.0,187.0 C138.3,188.0 145.0,191.7 150.0,193.0 C155.0,194.3 161.0,195.2 166.0,195.0 C171.0,194.8 177.7,192.5 180.0,192.0" stroke="#9e0142" stroke-width="6.5"/>
<path d="M184.0,190.0 C186.3,189.5 193.5,188.2 198.0,187.0 C202.5,185.8 208.8,183.7 211.0,183.0" stroke="#9e0142" stroke-width="5.0"/>
<path d="M216.0,182.0 C218.3,182.0 226.3,181.5 230.0,182.0 C233.7,182.5 236.7,184.5 238.0,185.0" stroke="#9e0142" stroke-width="3.5"/>
</g></g>
<path d="M18.0,83.0 C18.8,81.8 23.7,79.7 27.0,80.0 C30.3,80.3 37.5,83.7 38.0,85.0 C38.5,86.3 32.7,87.7 30.0,88.0 C27.3,88.3 24.0,87.8 22.0,87.0 C20.0,86.2 17.2,84.2 18.0,83.0Z" fill="#fff"/>
<path d="M36.0,97.0 C36.3,95.5 41.0,94.7 44.0,95.0 C47.0,95.3 51.8,97.5 54.0,99.0 C56.2,100.5 57.7,102.5 57.0,104.0 C56.3,105.5 52.5,108.0 50.0,108.0 C47.5,108.0 44.3,105.8 42.0,104.0 C39.7,102.2 35.7,98.5 36.0,97.0Z" fill="#fff"/>
<path d="M0.0,141.0 C0.8,139.7 3.5,138.7 5.0,139.0 C6.5,139.3 9.0,141.7 9.0,143.0 C9.0,144.3 6.5,146.3 5.0,147.0 C3.5,147.7 0.8,148.0 0.0,147.0 C-0.8,146.0 -0.8,142.3 0.0,141.0Z" fill="#fff"/>
<path d="M92.0,212.0 C92.8,211.2 97.3,210.7 100.0,211.0 C102.7,211.3 107.3,213.0 108.0,214.0 C108.7,215.0 106.2,216.7 104.0,217.0 C101.8,217.3 97.0,216.8 95.0,216.0 C93.0,215.2 91.2,212.8 92.0,212.0Z" fill="#fff"/>
<path d="M121.0,213.0 C121.7,212.5 125.0,211.7 126.0,212.0 C127.0,212.3 127.7,214.5 127.0,215.0 C126.3,215.5 123.0,215.3 122.0,215.0 C121.0,214.7 120.3,213.5 121.0,213.0Z" fill="#fff"/>
<path d="M255.0,218.0 C255.8,216.8 260.2,215.2 263.0,214.0 C265.8,212.8 271.2,210.7 272.0,211.0 C272.8,211.3 270.3,214.3 268.0,216.0 C265.7,217.7 260.2,220.7 258.0,221.0 C255.8,221.3 254.2,219.2 255.0,218.0Z" fill="#fff"/>
<path d="M2.0,80.0 C2.7,79.0 5.8,78.5 7.0,79.0 C8.2,79.5 9.7,82.0 9.0,83.0 C8.3,84.0 4.2,85.5 3.0,85.0 C1.8,84.5 1.3,81.0 2.0,80.0Z" fill="#fff"/>
<path d="M44.0,88.0 C44.5,87.7 51.2,89.3 52.0,90.0 C52.8,90.7 50.3,92.3 49.0,92.0 C47.7,91.7 43.5,88.3 44.0,88.0Z" fill="#fff"/>
<path d="M10.0,95.0 C10.2,94.5 15.2,93.7 16.0,94.0 C16.8,94.3 16.0,96.8 15.0,97.0 C14.0,97.2 9.8,95.5 10.0,95.0Z" fill="#fff"/>
<path d="M62.0,205.0 C62.7,204.5 69.3,205.3 70.0,206.0 C70.7,206.7 67.3,209.2 66.0,209.0 C64.7,208.8 61.3,205.5 62.0,205.0Z" fill="#fff"/>
<use href="#ol"/>
</g><rect x="0.5" y="0.5" width="311" height="302" fill="none" stroke="#8a8a8a" stroke-width="1.3"/></g>
<g transform="translate(365,46)"><g clip-path="url(#pc)">
<g filter="url(#cm1)"><path d="M-6.0,77.0 C-5.2,67.0 -3.1,77.3 0.0,77.0 C3.1,76.7 13.1,75.1 17.0,75.0 C20.9,74.9 25.5,75.6 29.0,76.5 C32.5,77.4 39.3,79.9 43.0,82.0 C46.7,84.1 53.4,89.1 57.0,92.0 C60.6,94.9 66.1,101.3 70.0,104.0 C73.9,106.7 82.0,110.4 86.0,112.0 C90.0,113.6 96.1,114.9 100.0,116.0 C103.9,117.1 111.3,118.7 115.0,120.0 C118.7,121.3 124.7,123.9 128.0,126.0 C131.3,128.1 136.8,133.3 140.0,136.0 C143.2,138.7 148.5,144.1 152.0,146.0 C155.5,147.9 161.5,150.5 166.0,150.5 C170.5,150.5 180.7,147.1 186.0,146.0 C191.3,144.9 200.3,142.8 206.0,142.0 C211.7,141.2 223.2,140.5 229.0,140.3 C234.8,140.1 244.1,139.7 249.5,140.5 C254.9,141.3 264.6,143.6 269.6,146.3 C274.6,149.0 283.4,156.4 286.8,160.6 C290.2,164.8 294.3,173.2 295.4,177.8 C296.5,182.4 296.5,190.8 295.4,195.0 C294.3,199.2 289.9,206.2 286.8,209.3 C283.7,212.4 276.5,216.4 272.4,218.0 C268.3,219.6 258.5,220.5 256.0,221.5 C253.5,222.5 255.5,225.2 254.0,225.8 C252.5,226.4 246.6,226.3 245.0,225.8 C243.4,225.3 244.1,222.6 242.0,222.0 C239.9,221.4 234.9,220.4 229.4,221.0 C223.9,221.6 206.4,225.3 200.7,226.6 C195.0,227.9 191.0,230.1 186.4,230.9 C181.8,231.7 172.0,232.5 166.3,232.3 C160.6,232.1 148.4,230.2 143.4,229.4 C138.4,228.6 132.8,227.7 129.0,226.6 C125.2,225.5 119.3,223.1 114.7,220.8 C110.1,218.5 100.3,212.0 94.6,209.3 C88.9,206.6 76.7,202.6 71.7,200.7 C66.7,198.8 61.2,196.9 57.4,195.0 C53.6,193.1 46.8,189.1 43.0,186.4 C39.2,183.7 32.1,178.1 28.7,175.0 C25.3,171.9 19.9,166.2 17.2,163.5 C14.5,160.8 10.9,156.5 8.6,155.0 C6.3,153.5 1.9,152.4 0.0,152.0 C-1.9,151.6 -5.2,162.0 -6.0,152.0 C-6.8,142.0 -6.8,87.0 -6.0,77.0Z" fill="#000"/><g clip-path="url(#bc)"><g filter="url(#bd1)"><ellipse cx="202.0" cy="206.0" rx="58.0" ry="21.0" transform="rotate(-6.0 202.0 206.0)" fill="#333333" opacity="1.00"/><ellipse cx="200.0" cy="178.0" rx="50.0" ry="9.0" transform="rotate(-4.0 200.0 178.0)" fill="#2e2e2e" opacity="1.00"/><ellipse cx="168.0" cy="213.0" rx="24.0" ry="4.0" transform="rotate(-14.0 168.0 213.0)" fill="#616161" opacity="1.00"/><ellipse cx="232.0" cy="200.0" rx="20.0" ry="4.0" transform="rotate(-4.0 232.0 200.0)" fill="#575757" opacity="1.00"/><ellipse cx="205.0" cy="212.0" rx="18.0" ry="3.5" transform="rotate(-20.0 205.0 212.0)" fill="#525252" opacity="1.00"/><ellipse cx="190.0" cy="222.0" rx="22.0" ry="3.5" transform="rotate(-10.0 190.0 222.0)" fill="#4c4c4c" opacity="1.00"/><ellipse cx="245.0" cy="210.0" rx="10.0" ry="5.0" transform="rotate(30.0 245.0 210.0)" fill="#474747" opacity="1.00"/><path d="M-4.0,108.0 C-1.7,108.8 5.3,110.5 10.0,113.0 C14.7,115.5 19.7,119.2 24.0,123.0 C28.3,126.8 32.0,132.0 36.0,136.0 C40.0,140.0 43.7,143.8 48.0,147.0 C52.3,150.2 56.7,152.3 62.0,155.0 C67.3,157.7 73.7,160.3 80.0,163.0 C86.3,165.7 93.3,168.3 100.0,171.0 C106.7,173.7 113.7,176.3 120.0,179.0 C126.3,181.7 132.7,184.8 138.0,187.0 C143.3,189.2 149.7,191.2 152.0,192.0" fill="none" stroke="#383838" stroke-width="26.0" stroke-linecap="round" stroke-linejoin="round" opacity="1.00"/><path d="M-4.0,108.0 C-1.7,108.8 5.3,110.5 10.0,113.0 C14.7,115.5 19.7,119.2 24.0,123.0 C28.3,126.8 32.0,132.0 36.0,136.0 C40.0,140.0 43.7,143.8 48.0,147.0 C52.3,150.2 56.7,152.3 62.0,155.0 C67.3,157.7 73.7,160.3 80.0,163.0 C86.3,165.7 93.3,168.3 100.0,171.0 C106.7,173.7 113.7,176.3 120.0,179.0 C126.3,181.7 132.7,184.8 138.0,187.0 C143.3,189.2 149.7,191.2 152.0,192.0" fill="none" stroke="#737373" stroke-width="15.0" stroke-linecap="round" stroke-linejoin="round" opacity="1.00"/><path d="M-4.0,108.0 C-1.7,108.8 5.3,110.5 10.0,113.0 C14.7,115.5 19.7,119.2 24.0,123.0 C28.3,126.8 32.0,132.0 36.0,136.0 C40.0,140.0 43.7,143.8 48.0,147.0 C52.3,150.2 56.7,152.3 62.0,155.0 C67.3,157.7 73.7,160.3 80.0,163.0 C86.3,165.7 93.3,168.3 100.0,171.0 C106.7,173.7 113.7,176.3 120.0,179.0 C126.3,181.7 132.7,184.8 138.0,187.0 C143.3,189.2 149.7,191.2 152.0,192.0" fill="none" stroke="#a3a3a3" stroke-width="8.0" stroke-linecap="round" stroke-linejoin="round" opacity="1.00"/><path d="M140.0,189.0 C143.0,189.8 152.0,193.3 158.0,194.0 C164.0,194.7 170.0,194.0 176.0,193.0 C182.0,192.0 188.0,189.5 194.0,188.0 C200.0,186.5 206.0,185.0 212.0,184.0 C218.0,183.0 224.3,181.7 230.0,182.0 C235.7,182.3 243.3,185.3 246.0,186.0" fill="none" stroke="#424242" stroke-width="18.0" stroke-linecap="round" stroke-linejoin="round" opacity="1.00"/><path d="M140.0,189.0 C143.0,189.8 152.0,193.3 158.0,194.0 C164.0,194.7 170.0,194.0 176.0,193.0 C182.0,192.0 188.0,189.5 194.0,188.0 C200.0,186.5 206.0,185.0 212.0,184.0 C218.0,183.0 224.3,181.7 230.0,182.0 C235.7,182.3 243.3,185.3 246.0,186.0" fill="none" stroke="#808080" stroke-width="8.0" stroke-linecap="round" stroke-linejoin="round" opacity="1.00"/><path d="M-4.0,104.0 C-1.7,104.7 5.3,105.8 10.0,108.0 C14.7,110.2 21.7,115.5 24.0,117.0" fill="none" stroke="#808080" stroke-width="10.0" stroke-linecap="round" stroke-linejoin="round" opacity="1.00"/><ellipse cx="180.0" cy="170.0" rx="20.0" ry="5.0" transform="rotate(-20.0 180.0 170.0)" fill="#4c4c4c" opacity="1.00"/></g></g></g>
<g clip-path="url(#bc)"><g filter="url(#cf1)" fill="none" stroke-linecap="round" stroke-linejoin="round">
<path d="M30.0,145.0 C31.7,146.0 36.3,149.3 40.0,151.0 C43.7,152.7 48.3,153.8 52.0,155.0 C55.7,156.2 60.3,157.5 62.0,158.0" stroke="#ba2049" stroke-width="7.5"/>
<path d="M70.0,161.0 L80.0,164.0" stroke="#ba2049" stroke-width="6.0"/>
<path d="M92.0,168.0 L100.0,171.0" stroke="#ba2049" stroke-width="5.5"/>
<path d="M108.0,174.0 L114.0,177.0" stroke="#ba2049" stroke-width="5.5"/>
<path d="M138.0,188.0 C140.3,188.8 147.3,191.8 152.0,193.0 C156.7,194.2 161.0,195.2 166.0,195.0 C171.0,194.8 177.0,193.2 182.0,192.0 C187.0,190.8 193.7,188.7 196.0,188.0" stroke="#ba2049" stroke-width="9.0"/>
<path d="M200.0,186.0 C202.3,185.5 209.7,183.7 214.0,183.0 C218.3,182.3 224.0,182.2 226.0,182.0" stroke="#ba2049" stroke-width="7.0"/>
<path d="M230.0,182.0 L238.0,185.0" stroke="#ba2049" stroke-width="6.0"/>
<path d="M30.0,145.0 C31.7,146.0 36.3,149.3 40.0,151.0 C43.7,152.7 48.3,153.8 52.0,155.0 C55.7,156.2 60.3,157.5 62.0,158.0" stroke="#9e0142" stroke-width="5.0"/>
<path d="M70.0,161.0 L80.0,164.0" stroke="#9e0142" stroke-width="3.5"/>
<path d="M92.0,168.0 L100.0,171.0" stroke="#9e0142" stroke-width="3.0"/>
<path d="M108.0,174.0 L114.0,177.0" stroke="#9e0142" stroke-width="3.0"/>
<path d="M138.0,188.0 C140.3,188.8 147.3,191.8 152.0,193.0 C156.7,194.2 161.0,195.2 166.0,195.0 C171.0,194.8 177.0,193.2 182.0,192.0 C187.0,190.8 193.7,188.7 196.0,188.0" stroke="#9e0142" stroke-width="6.5"/>
<path d="M200.0,186.0 C202.3,185.5 209.7,183.7 214.0,183.0 C218.3,182.3 224.0,182.2 226.0,182.0" stroke="#9e0142" stroke-width="4.5"/>
<path d="M230.0,182.0 L238.0,185.0" stroke="#9e0142" stroke-width="3.5"/>
</g></g>
<path d="M18.0,83.0 C18.8,81.8 23.7,79.7 27.0,80.0 C30.3,80.3 37.5,83.7 38.0,85.0 C38.5,86.3 32.7,87.7 30.0,88.0 C27.3,88.3 24.0,87.8 22.0,87.0 C20.0,86.2 17.2,84.2 18.0,83.0Z" fill="#fff"/>
<path d="M36.0,97.0 C36.3,95.5 41.0,94.7 44.0,95.0 C47.0,95.3 51.8,97.5 54.0,99.0 C56.2,100.5 57.7,102.5 57.0,104.0 C56.3,105.5 52.5,108.0 50.0,108.0 C47.5,108.0 44.3,105.8 42.0,104.0 C39.7,102.2 35.7,98.5 36.0,97.0Z" fill="#fff"/>
<path d="M0.0,141.0 C0.8,139.7 3.5,138.7 5.0,139.0 C6.5,139.3 9.0,141.7 9.0,143.0 C9.0,144.3 6.5,146.3 5.0,147.0 C3.5,147.7 0.8,148.0 0.0,147.0 C-0.8,146.0 -0.8,142.3 0.0,141.0Z" fill="#fff"/>
<path d="M92.0,212.0 C92.8,211.2 97.3,210.7 100.0,211.0 C102.7,211.3 107.3,213.0 108.0,214.0 C108.7,215.0 106.2,216.7 104.0,217.0 C101.8,217.3 97.0,216.8 95.0,216.0 C93.0,215.2 91.2,212.8 92.0,212.0Z" fill="#fff"/>
<path d="M121.0,213.0 C121.7,212.5 125.0,211.7 126.0,212.0 C127.0,212.3 127.7,214.5 127.0,215.0 C126.3,215.5 123.0,215.3 122.0,215.0 C121.0,214.7 120.3,213.5 121.0,213.0Z" fill="#fff"/>
<path d="M255.0,218.0 C255.8,216.8 260.2,215.2 263.0,214.0 C265.8,212.8 271.2,210.7 272.0,211.0 C272.8,211.3 270.3,214.3 268.0,216.0 C265.7,217.7 260.2,220.7 258.0,221.0 C255.8,221.3 254.2,219.2 255.0,218.0Z" fill="#fff"/>
<path d="M2.0,80.0 C2.7,79.0 5.8,78.5 7.0,79.0 C8.2,79.5 9.7,82.0 9.0,83.0 C8.3,84.0 4.2,85.5 3.0,85.0 C1.8,84.5 1.3,81.0 2.0,80.0Z" fill="#fff"/>
<path d="M44.0,88.0 C44.5,87.7 51.2,89.3 52.0,90.0 C52.8,90.7 50.3,92.3 49.0,92.0 C47.7,91.7 43.5,88.3 44.0,88.0Z" fill="#fff"/>
<path d="M10.0,95.0 C10.2,94.5 15.2,93.7 16.0,94.0 C16.8,94.3 16.0,96.8 15.0,97.0 C14.0,97.2 9.8,95.5 10.0,95.0Z" fill="#fff"/>
<path d="M62.0,205.0 C62.7,204.5 69.3,205.3 70.0,206.0 C70.7,206.7 67.3,209.2 66.0,209.0 C64.7,208.8 61.3,205.5 62.0,205.0Z" fill="#fff"/>
<use href="#ol"/>
</g><rect x="0.5" y="0.5" width="311" height="302" fill="none" stroke="#8a8a8a" stroke-width="1.3"/></g>
<g transform="translate(685,46)"><g clip-path="url(#pc)">
<g filter="url(#cm2)"><path d="M-6.0,77.0 C-5.2,67.0 -3.1,77.3 0.0,77.0 C3.1,76.7 13.1,75.1 17.0,75.0 C20.9,74.9 25.5,75.6 29.0,76.5 C32.5,77.4 39.3,79.9 43.0,82.0 C46.7,84.1 53.4,89.1 57.0,92.0 C60.6,94.9 66.1,101.3 70.0,104.0 C73.9,106.7 82.0,110.4 86.0,112.0 C90.0,113.6 96.1,114.9 100.0,116.0 C103.9,117.1 111.3,118.7 115.0,120.0 C118.7,121.3 124.7,123.9 128.0,126.0 C131.3,128.1 136.8,133.3 140.0,136.0 C143.2,138.7 148.5,144.1 152.0,146.0 C155.5,147.9 161.5,150.5 166.0,150.5 C170.5,150.5 180.7,147.1 186.0,146.0 C191.3,144.9 200.3,142.8 206.0,142.0 C211.7,141.2 223.2,140.5 229.0,140.3 C234.8,140.1 244.1,139.7 249.5,140.5 C254.9,141.3 264.6,143.6 269.6,146.3 C274.6,149.0 283.4,156.4 286.8,160.6 C290.2,164.8 294.3,173.2 295.4,177.8 C296.5,182.4 296.5,190.8 295.4,195.0 C294.3,199.2 289.9,206.2 286.8,209.3 C283.7,212.4 276.5,216.4 272.4,218.0 C268.3,219.6 258.5,220.5 256.0,221.5 C253.5,222.5 255.5,225.2 254.0,225.8 C252.5,226.4 246.6,226.3 245.0,225.8 C243.4,225.3 244.1,222.6 242.0,222.0 C239.9,221.4 234.9,220.4 229.4,221.0 C223.9,221.6 206.4,225.3 200.7,226.6 C195.0,227.9 191.0,230.1 186.4,230.9 C181.8,231.7 172.0,232.5 166.3,232.3 C160.6,232.1 148.4,230.2 143.4,229.4 C138.4,228.6 132.8,227.7 129.0,226.6 C125.2,225.5 119.3,223.1 114.7,220.8 C110.1,218.5 100.3,212.0 94.6,209.3 C88.9,206.6 76.7,202.6 71.7,200.7 C66.7,198.8 61.2,196.9 57.4,195.0 C53.6,193.1 46.8,189.1 43.0,186.4 C39.2,183.7 32.1,178.1 28.7,175.0 C25.3,171.9 19.9,166.2 17.2,163.5 C14.5,160.8 10.9,156.5 8.6,155.0 C6.3,153.5 1.9,152.4 0.0,152.0 C-1.9,151.6 -5.2,162.0 -6.0,152.0 C-6.8,142.0 -6.8,87.0 -6.0,77.0Z" fill="#000"/><g clip-path="url(#bc)"><g filter="url(#bd2)"><ellipse cx="202.0" cy="206.0" rx="58.0" ry="21.0" transform="rotate(-6.0 202.0 206.0)" fill="#333333" opacity="1.00"/><ellipse cx="200.0" cy="178.0" rx="50.0" ry="9.0" transform="rotate(-4.0 200.0 178.0)" fill="#2e2e2e" opacity="1.00"/><ellipse cx="168.0" cy="213.0" rx="24.0" ry="4.0" transform="rotate(-14.0 168.0 213.0)" fill="#616161" opacity="1.00"/><ellipse cx="232.0" cy="200.0" rx="20.0" ry="4.0" transform="rotate(-4.0 232.0 200.0)" fill="#575757" opacity="1.00"/><ellipse cx="205.0" cy="212.0" rx="18.0" ry="3.5" transform="rotate(-20.0 205.0 212.0)" fill="#525252" opacity="1.00"/><ellipse cx="190.0" cy="222.0" rx="22.0" ry="3.5" transform="rotate(-10.0 190.0 222.0)" fill="#4c4c4c" opacity="1.00"/><ellipse cx="245.0" cy="210.0" rx="10.0" ry="5.0" transform="rotate(30.0 245.0 210.0)" fill="#474747" opacity="1.00"/><path d="M16.0,110.0 C18.0,112.3 24.0,119.2 28.0,124.0 C32.0,128.8 35.7,134.8 40.0,139.0 C44.3,143.2 49.3,145.8 54.0,149.0 C58.7,152.2 62.7,155.2 68.0,158.0 C73.3,160.8 80.0,163.5 86.0,166.0 C92.0,168.5 98.0,170.7 104.0,173.0 C110.0,175.3 116.3,177.7 122.0,180.0 C127.7,182.3 133.0,185.0 138.0,187.0 C143.0,189.0 149.7,191.2 152.0,192.0" fill="none" stroke="#383838" stroke-width="25.0" stroke-linecap="round" stroke-linejoin="round" opacity="1.00"/><path d="M16.0,110.0 C18.0,112.3 24.0,119.2 28.0,124.0 C32.0,128.8 35.7,134.8 40.0,139.0 C44.3,143.2 49.3,145.8 54.0,149.0 C58.7,152.2 62.7,155.2 68.0,158.0 C73.3,160.8 80.0,163.5 86.0,166.0 C92.0,168.5 98.0,170.7 104.0,173.0 C110.0,175.3 116.3,177.7 122.0,180.0 C127.7,182.3 133.0,185.0 138.0,187.0 C143.0,189.0 149.7,191.2 152.0,192.0" fill="none" stroke="#707070" stroke-width="14.0" stroke-linecap="round" stroke-linejoin="round" opacity="1.00"/><path d="M16.0,110.0 C18.0,112.3 24.0,119.2 28.0,124.0 C32.0,128.8 35.7,134.8 40.0,139.0 C44.3,143.2 49.3,145.8 54.0,149.0 C58.7,152.2 62.7,155.2 68.0,158.0 C73.3,160.8 80.0,163.5 86.0,166.0 C92.0,168.5 98.0,170.7 104.0,173.0 C110.0,175.3 116.3,177.7 122.0,180.0 C127.7,182.3 133.0,185.0 138.0,187.0 C143.0,189.0 149.7,191.2 152.0,192.0" fill="none" stroke="#a3a3a3" stroke-width="8.0" stroke-linecap="round" stroke-linejoin="round" opacity="1.00"/><path d="M140.0,189.0 C143.0,189.8 152.0,193.3 158.0,194.0 C164.0,194.7 170.0,194.0 176.0,193.0 C182.0,192.0 188.0,189.5 194.0,188.0 C200.0,186.5 206.0,185.0 212.0,184.0 C218.0,183.0 224.3,181.7 230.0,182.0 C235.7,182.3 243.3,185.3 246.0,186.0" fill="none" stroke="#424242" stroke-width="18.0" stroke-linecap="round" stroke-linejoin="round" opacity="1.00"/><path d="M140.0,189.0 C143.0,189.8 152.0,193.3 158.0,194.0 C164.0,194.7 170.0,194.0 176.0,193.0 C182.0,192.0 188.0,189.5 194.0,188.0 C200.0,186.5 206.0,185.0 212.0,184.0 C218.0,183.0 224.3,181.7 230.0,182.0 C235.7,182.3 243.3,185.3 246.0,186.0" fill="none" stroke="#808080" stroke-width="8.0" stroke-linecap="round" stroke-linejoin="round" opacity="1.00"/><path d="M12.0,100.0 C14.3,101.0 21.3,103.3 26.0,106.0 C30.7,108.7 37.7,114.3 40.0,116.0" fill="none" stroke="#474747" stroke-width="8.0" stroke-linecap="round" stroke-linejoin="round" opacity="1.00"/><path d="M66.0,120.0 C66.7,122.0 68.7,128.0 70.0,132.0 C71.3,136.0 73.3,142.0 74.0,144.0" fill="none" stroke="#4c4c4c" stroke-width="5.0" stroke-linecap="round" stroke-linejoin="round" opacity="1.00"/><ellipse cx="180.0" cy="170.0" rx="20.0" ry="5.0" transform="rotate(-20.0 180.0 170.0)" fill="#4c4c4c" opacity="1.00"/></g></g></g>
<g clip-path="url(#bc)"><g filter="url(#cf2)" fill="none" stroke-linecap="round" stroke-linejoin="round">
<path d="M30.0,140.0 C31.7,141.0 36.7,144.0 40.0,146.0 C43.3,148.0 46.3,150.2 50.0,152.0 C53.7,153.8 60.0,156.2 62.0,157.0" stroke="#ba2049" stroke-width="7.5"/>
<path d="M68.0,160.0 L78.0,164.0" stroke="#ba2049" stroke-width="6.0"/>
<path d="M90.0,168.0 L98.0,171.0" stroke="#ba2049" stroke-width="5.5"/>
<path d="M108.0,174.0 L116.0,178.0" stroke="#ba2049" stroke-width="5.5"/>
<path d="M136.0,187.0 C138.3,187.8 145.0,190.8 150.0,192.0 C155.0,193.2 161.0,194.2 166.0,194.0 C171.0,193.8 177.7,191.5 180.0,191.0" stroke="#ba2049" stroke-width="8.0"/>
<path d="M184.0,190.0 C186.3,189.5 193.3,188.2 198.0,187.0 C202.7,185.8 209.7,183.7 212.0,183.0" stroke="#ba2049" stroke-width="7.5"/>
<path d="M217.0,182.0 C219.2,182.0 226.5,181.5 230.0,182.0 C233.5,182.5 236.7,184.5 238.0,185.0" stroke="#ba2049" stroke-width="6.5"/>
<path d="M30.0,140.0 C31.7,141.0 36.7,144.0 40.0,146.0 C43.3,148.0 46.3,150.2 50.0,152.0 C53.7,153.8 60.0,156.2 62.0,157.0" stroke="#9e0142" stroke-width="5.0"/>
<path d="M68.0,160.0 L78.0,164.0" stroke="#9e0142" stroke-width="3.5"/>
<path d="M90.0,168.0 L98.0,171.0" stroke="#9e0142" stroke-width="3.0"/>
<path d="M108.0,174.0 L116.0,178.0" stroke="#9e0142" stroke-width="3.0"/>
<path d="M136.0,187.0 C138.3,187.8 145.0,190.8 150.0,192.0 C155.0,193.2 161.0,194.2 166.0,194.0 C171.0,193.8 177.7,191.5 180.0,191.0" stroke="#9e0142" stroke-width="5.5"/>
<path d="M184.0,190.0 C186.3,189.5 193.3,188.2 198.0,187.0 C202.7,185.8 209.7,183.7 212.0,183.0" stroke="#9e0142" stroke-width="5.0"/>
<path d="M217.0,182.0 C219.2,182.0 226.5,181.5 230.0,182.0 C233.5,182.5 236.7,184.5 238.0,185.0" stroke="#9e0142" stroke-width="4.0"/>
</g></g>
<path d="M18.0,83.0 C18.8,81.8 23.7,79.7 27.0,80.0 C30.3,80.3 37.5,83.7 38.0,85.0 C38.5,86.3 32.7,87.7 30.0,88.0 C27.3,88.3 24.0,87.8 22.0,87.0 C20.0,86.2 17.2,84.2 18.0,83.0Z" fill="#fff"/>
<path d="M36.0,97.0 C36.3,95.5 41.0,94.7 44.0,95.0 C47.0,95.3 51.8,97.5 54.0,99.0 C56.2,100.5 57.7,102.5 57.0,104.0 C56.3,105.5 52.5,108.0 50.0,108.0 C47.5,108.0 44.3,105.8 42.0,104.0 C39.7,102.2 35.7,98.5 36.0,97.0Z" fill="#fff"/>
<path d="M0.0,141.0 C0.8,139.7 3.5,138.7 5.0,139.0 C6.5,139.3 9.0,141.7 9.0,143.0 C9.0,144.3 6.5,146.3 5.0,147.0 C3.5,147.7 0.8,148.0 0.0,147.0 C-0.8,146.0 -0.8,142.3 0.0,141.0Z" fill="#fff"/>
<path d="M92.0,212.0 C92.8,211.2 97.3,210.7 100.0,211.0 C102.7,211.3 107.3,213.0 108.0,214.0 C108.7,215.0 106.2,216.7 104.0,217.0 C101.8,217.3 97.0,216.8 95.0,216.0 C93.0,215.2 91.2,212.8 92.0,212.0Z" fill="#fff"/>
<path d="M121.0,213.0 C121.7,212.5 125.0,211.7 126.0,212.0 C127.0,212.3 127.7,214.5 127.0,215.0 C126.3,215.5 123.0,215.3 122.0,215.0 C121.0,214.7 120.3,213.5 121.0,213.0Z" fill="#fff"/>
<path d="M255.0,218.0 C255.8,216.8 260.2,215.2 263.0,214.0 C265.8,212.8 271.2,210.7 272.0,211.0 C272.8,211.3 270.3,214.3 268.0,216.0 C265.7,217.7 260.2,220.7 258.0,221.0 C255.8,221.3 254.2,219.2 255.0,218.0Z" fill="#fff"/>
<path d="M2.0,80.0 C2.7,79.0 5.8,78.5 7.0,79.0 C8.2,79.5 9.7,82.0 9.0,83.0 C8.3,84.0 4.2,85.5 3.0,85.0 C1.8,84.5 1.3,81.0 2.0,80.0Z" fill="#fff"/>
<path d="M44.0,88.0 C44.5,87.7 51.2,89.3 52.0,90.0 C52.8,90.7 50.3,92.3 49.0,92.0 C47.7,91.7 43.5,88.3 44.0,88.0Z" fill="#fff"/>
<path d="M10.0,95.0 C10.2,94.5 15.2,93.7 16.0,94.0 C16.8,94.3 16.0,96.8 15.0,97.0 C14.0,97.2 9.8,95.5 10.0,95.0Z" fill="#fff"/>
<path d="M62.0,205.0 C62.7,204.5 69.3,205.3 70.0,206.0 C70.7,206.7 67.3,209.2 66.0,209.0 C64.7,208.8 61.3,205.5 62.0,205.0Z" fill="#fff"/>
<use href="#ol"/>
</g><rect x="0.5" y="0.5" width="311" height="302" fill="none" stroke="#8a8a8a" stroke-width="1.3"/></g>
<g transform="translate(45,391)"><g clip-path="url(#pc)">
<g filter="url(#cm3)"><path d="M-6.0,77.0 C-5.2,67.0 -3.1,77.3 0.0,77.0 C3.1,76.7 13.1,75.1 17.0,75.0 C20.9,74.9 25.5,75.6 29.0,76.5 C32.5,77.4 39.3,79.9 43.0,82.0 C46.7,84.1 53.4,89.1 57.0,92.0 C60.6,94.9 66.1,101.3 70.0,104.0 C73.9,106.7 82.0,110.4 86.0,112.0 C90.0,113.6 96.1,114.9 100.0,116.0 C103.9,117.1 111.3,118.7 115.0,120.0 C118.7,121.3 124.7,123.9 128.0,126.0 C131.3,128.1 136.8,133.3 140.0,136.0 C143.2,138.7 148.5,144.1 152.0,146.0 C155.5,147.9 161.5,150.5 166.0,150.5 C170.5,150.5 180.7,147.1 186.0,146.0 C191.3,144.9 200.3,142.8 206.0,142.0 C211.7,141.2 223.2,140.5 229.0,140.3 C234.8,140.1 244.1,139.7 249.5,140.5 C254.9,141.3 264.6,143.6 269.6,146.3 C274.6,149.0 283.4,156.4 286.8,160.6 C290.2,164.8 294.3,173.2 295.4,177.8 C296.5,182.4 296.5,190.8 295.4,195.0 C294.3,199.2 289.9,206.2 286.8,209.3 C283.7,212.4 276.5,216.4 272.4,218.0 C268.3,219.6 258.5,220.5 256.0,221.5 C253.5,222.5 255.5,225.2 254.0,225.8 C252.5,226.4 246.6,226.3 245.0,225.8 C243.4,225.3 244.1,222.6 242.0,222.0 C239.9,221.4 234.9,220.4 229.4,221.0 C223.9,221.6 206.4,225.3 200.7,226.6 C195.0,227.9 191.0,230.1 186.4,230.9 C181.8,231.7 172.0,232.5 166.3,232.3 C160.6,232.1 148.4,230.2 143.4,229.4 C138.4,228.6 132.8,227.7 129.0,226.6 C125.2,225.5 119.3,223.1 114.7,220.8 C110.1,218.5 100.3,212.0 94.6,209.3 C88.9,206.6 76.7,202.6 71.7,200.7 C66.7,198.8 61.2,196.9 57.4,195.0 C53.6,193.1 46.8,189.1 43.0,186.4 C39.2,183.7 32.1,178.1 28.7,175.0 C25.3,171.9 19.9,166.2 17.2,163.5 C14.5,160.8 10.9,156.5 8.6,155.0 C6.3,153.5 1.9,152.4 0.0,152.0 C-1.9,151.6 -5.2,162.0 -6.0,152.0 C-6.8,142.0 -6.8,87.0 -6.0,77.0Z" fill="#000"/><g clip-path="url(#bc)"><g filter="url(#bd3)"><path d="M24.0,124.0 C25.7,126.0 30.5,132.2 34.0,136.0 C37.5,139.8 40.1,143.7 45.0,146.5 C49.9,149.3 57.0,149.6 63.6,152.6 C70.2,155.6 77.7,161.2 84.8,164.7 C91.9,168.2 98.7,170.3 106.0,173.8 C113.3,177.3 121.1,183.6 128.7,185.9 C136.3,188.2 143.8,186.4 151.4,187.4 C159.0,188.4 166.4,192.2 174.0,192.0 C181.6,191.8 193.0,187.0 196.8,186.0" fill="none" stroke="#2e2e2e" stroke-width="19.0" stroke-linecap="round" stroke-linejoin="round" opacity="1.00"/><path d="M24.0,124.0 C25.7,126.0 30.5,132.2 34.0,136.0 C37.5,139.8 40.1,143.7 45.0,146.5 C49.9,149.3 57.0,149.6 63.6,152.6 C70.2,155.6 77.7,161.2 84.8,164.7 C91.9,168.2 98.7,170.3 106.0,173.8 C113.3,177.3 121.1,183.6 128.7,185.9 C136.3,188.2 147.6,187.2 151.4,187.4" fill="none" stroke="#6b6b6b" stroke-width="11.0" stroke-linecap="round" stroke-linejoin="round" opacity="1.00"/><path d="M34.0,136.0 C35.8,137.8 40.1,143.7 45.0,146.5 C49.9,149.3 57.0,149.6 63.6,152.6 C70.2,155.6 77.7,161.2 84.8,164.7 C91.9,168.2 102.5,172.3 106.0,173.8" fill="none" stroke="#999999" stroke-width="5.0" stroke-linecap="round" stroke-linejoin="round" opacity="1.00"/><path d="M140.0,216.0 C142.7,215.7 151.0,214.7 156.0,214.0 C161.0,213.3 165.3,213.3 170.0,212.0 C174.7,210.7 181.7,207.0 184.0,206.0" fill="none" stroke="#575757" stroke-width="5.0" stroke-linecap="round" stroke-linejoin="round" opacity="1.00"/><path d="M140.0,197.0 C143.3,197.3 153.3,199.3 160.0,199.0 C166.7,198.7 176.7,195.7 180.0,195.0" fill="none" stroke="#424242" stroke-width="3.0" stroke-linecap="round" stroke-linejoin="round" opacity="1.00"/><path d="M12.0,108.0 C13.7,108.3 18.3,108.7 22.0,110.0 C25.7,111.3 32.0,115.0 34.0,116.0" fill="none" stroke="#424242" stroke-width="3.0" stroke-linecap="round" stroke-linejoin="round" opacity="1.00"/></g></g></g>
<g clip-path="url(#bc)"><g filter="url(#cf3)" fill="none" stroke-linecap="round" stroke-linejoin="round">
<path d="M45.0,147.0 C46.5,147.8 51.0,150.8 54.0,152.0 C57.0,153.2 61.5,153.7 63.0,154.0" stroke="#ba2049" stroke-width="6.5"/>
<path d="M86.0,166.0 L98.0,171.0" stroke="#ba2049" stroke-width="5.5"/>
<path d="M45.0,147.0 C46.5,147.8 51.0,150.8 54.0,152.0 C57.0,153.2 61.5,153.7 63.0,154.0" stroke="#9e0142" stroke-width="4.0"/>
<path d="M86.0,166.0 L98.0,171.0" stroke="#9e0142" stroke-width="3.0"/>
</g></g>
<path d="M18.0,83.0 C18.8,81.8 23.7,79.7 27.0,80.0 C30.3,80.3 37.5,83.7 38.0,85.0 C38.5,86.3 32.7,87.7 30.0,88.0 C27.3,88.3 24.0,87.8 22.0,87.0 C20.0,86.2 17.2,84.2 18.0,83.0Z" fill="#fff"/>
<path d="M30.0,95.0 C30.7,92.3 39.3,91.5 44.0,92.0 C48.7,92.5 55.0,95.7 58.0,98.0 C61.0,100.3 62.7,103.7 62.0,106.0 C61.3,108.3 57.7,111.7 54.0,112.0 C50.3,112.3 44.0,110.8 40.0,108.0 C36.0,105.2 29.3,97.7 30.0,95.0Z" fill="#fff"/>
<path d="M0.0,141.0 C0.8,139.7 3.5,138.7 5.0,139.0 C6.5,139.3 9.0,141.7 9.0,143.0 C9.0,144.3 6.5,146.3 5.0,147.0 C3.5,147.7 0.8,148.0 0.0,147.0 C-0.8,146.0 -0.8,142.3 0.0,141.0Z" fill="#fff"/>
<path d="M92.0,212.0 C92.8,211.2 97.3,210.7 100.0,211.0 C102.7,211.3 107.3,213.0 108.0,214.0 C108.7,215.0 106.2,216.7 104.0,217.0 C101.8,217.3 97.0,216.8 95.0,216.0 C93.0,215.2 91.2,212.8 92.0,212.0Z" fill="#fff"/>
<path d="M121.0,213.0 C121.7,212.5 125.0,211.7 126.0,212.0 C127.0,212.3 127.7,214.5 127.0,215.0 C126.3,215.5 123.0,215.3 122.0,215.0 C121.0,214.7 120.3,213.5 121.0,213.0Z" fill="#fff"/>
<path d="M2.0,80.0 C2.7,79.0 5.8,78.5 7.0,79.0 C8.2,79.5 9.7,82.0 9.0,83.0 C8.3,84.0 4.2,85.5 3.0,85.0 C1.8,84.5 1.3,81.0 2.0,80.0Z" fill="#fff"/>
<path d="M44.0,88.0 C44.5,87.7 51.2,89.3 52.0,90.0 C52.8,90.7 50.3,92.3 49.0,92.0 C47.7,91.7 43.5,88.3 44.0,88.0Z" fill="#fff"/>
<use href="#ol"/>
</g><rect x="0.5" y="0.5" width="311" height="302" fill="none" stroke="#8a8a8a" stroke-width="1.3"/></g>
<g transform="translate(365,391)"><g clip-path="url(#pc)">
<g filter="url(#cm4)"><path d="M-6.0,77.0 C-5.2,67.0 -3.1,77.3 0.0,77.0 C3.1,76.7 13.1,75.1 17.0,75.0 C20.9,74.9 25.5,75.6 29.0,76.5 C32.5,77.4 39.3,79.9 43.0,82.0 C46.7,84.1 53.4,89.1 57.0,92.0 C60.6,94.9 66.1,101.3 70.0,104.0 C73.9,106.7 82.0,110.4 86.0,112.0 C90.0,113.6 96.1,114.9 100.0,116.0 C103.9,117.1 111.3,118.7 115.0,120.0 C118.7,121.3 124.7,123.9 128.0,126.0 C131.3,128.1 136.8,133.3 140.0,136.0 C143.2,138.7 148.5,144.1 152.0,146.0 C155.5,147.9 161.5,150.5 166.0,150.5 C170.5,150.5 180.7,147.1 186.0,146.0 C191.3,144.9 200.3,142.8 206.0,142.0 C211.7,141.2 223.2,140.5 229.0,140.3 C234.8,140.1 244.1,139.7 249.5,140.5 C254.9,141.3 264.6,143.6 269.6,146.3 C274.6,149.0 283.4,156.4 286.8,160.6 C290.2,164.8 294.3,173.2 295.4,177.8 C296.5,182.4 296.5,190.8 295.4,195.0 C294.3,199.2 289.9,206.2 286.8,209.3 C283.7,212.4 276.5,216.4 272.4,218.0 C268.3,219.6 258.5,220.5 256.0,221.5 C253.5,222.5 255.5,225.2 254.0,225.8 C252.5,226.4 246.6,226.3 245.0,225.8 C243.4,225.3 244.1,222.6 242.0,222.0 C239.9,221.4 234.9,220.4 229.4,221.0 C223.9,221.6 206.4,225.3 200.7,226.6 C195.0,227.9 191.0,230.1 186.4,230.9 C181.8,231.7 172.0,232.5 166.3,232.3 C160.6,232.1 148.4,230.2 143.4,229.4 C138.4,228.6 132.8,227.7 129.0,226.6 C125.2,225.5 119.3,223.1 114.7,220.8 C110.1,218.5 100.3,212.0 94.6,209.3 C88.9,206.6 76.7,202.6 71.7,200.7 C66.7,198.8 61.2,196.9 57.4,195.0 C53.6,193.1 46.8,189.1 43.0,186.4 C39.2,183.7 32.1,178.1 28.7,175.0 C25.3,171.9 19.9,166.2 17.2,163.5 C14.5,160.8 10.9,156.5 8.6,155.0 C6.3,153.5 1.9,152.4 0.0,152.0 C-1.9,151.6 -5.2,162.0 -6.0,152.0 C-6.8,142.0 -6.8,87.0 -6.0,77.0Z" fill="#000"/><g clip-path="url(#bc)"><g filter="url(#bd4)"><path d="M8.0,114.0 C10.0,115.7 16.3,120.8 20.0,124.0 C23.7,127.2 26.7,129.3 30.0,133.0 C33.3,136.7 36.3,142.5 40.0,146.0 C43.7,149.5 47.0,151.2 52.0,154.0 C57.0,156.8 63.5,159.7 70.0,163.0 C76.5,166.3 83.8,170.3 91.0,174.0 C98.2,177.7 106.0,181.7 113.5,185.0 C121.0,188.3 128.4,192.5 136.0,194.0 C143.6,195.5 151.4,193.0 159.0,194.0 C166.6,195.0 177.9,199.0 181.7,200.0" fill="none" stroke="#2e2e2e" stroke-width="16.0" stroke-linecap="round" stroke-linejoin="round" opacity="1.00"/><path d="M30.0,133.0 C31.7,135.2 36.3,142.5 40.0,146.0 C43.7,149.5 47.0,151.2 52.0,154.0 C57.0,156.8 63.5,159.7 70.0,163.0 C76.5,166.3 83.8,170.3 91.0,174.0 C98.2,177.7 106.0,181.7 113.5,185.0 C121.0,188.3 132.2,192.5 136.0,194.0" fill="none" stroke="#6b6b6b" stroke-width="9.0" stroke-linecap="round" stroke-linejoin="round" opacity="1.00"/><path d="M40.0,146.0 C42.0,147.3 47.0,151.2 52.0,154.0 C57.0,156.8 63.5,159.7 70.0,163.0 C76.5,166.3 87.5,172.2 91.0,174.0" fill="none" stroke="#999999" stroke-width="4.0" stroke-linecap="round" stroke-linejoin="round" opacity="1.00"/><path d="M151.0,213.0 C154.2,212.8 163.3,213.0 170.0,212.0 C176.7,211.0 187.5,207.8 191.0,207.0" fill="none" stroke="#525252" stroke-width="4.0" stroke-linecap="round" stroke-linejoin="round" opacity="1.00"/><path d="M140.0,201.0 C143.3,201.3 153.7,202.7 160.0,203.0 C166.3,203.3 175.0,203.0 178.0,203.0" fill="none" stroke="#424242" stroke-width="3.0" stroke-linecap="round" stroke-linejoin="round" opacity="1.00"/></g></g></g>
<g clip-path="url(#bc)"><g filter="url(#cf4)" fill="none" stroke-linecap="round" stroke-linejoin="round">
<path d="M35.0,150.0 C36.7,150.5 41.3,152.2 45.0,153.0 C48.7,153.8 55.0,154.7 57.0,155.0" stroke="#ba2049" stroke-width="6.5"/>
<path d="M64.0,162.0 L72.0,164.0" stroke="#ba2049" stroke-width="5.0"/>
<path d="M76.0,165.0 L82.0,167.0" stroke="#ba2049" stroke-width="5.0"/>
<path d="M35.0,150.0 C36.7,150.5 41.3,152.2 45.0,153.0 C48.7,153.8 55.0,154.7 57.0,155.0" stroke="#9e0142" stroke-width="4.0"/>
<path d="M64.0,162.0 L72.0,164.0" stroke="#9e0142" stroke-width="2.5"/>
<path d="M76.0,165.0 L82.0,167.0" stroke="#9e0142" stroke-width="2.5"/>
</g></g>
<path d="M18.0,83.0 C18.8,81.8 23.7,79.7 27.0,80.0 C30.3,80.3 37.5,83.7 38.0,85.0 C38.5,86.3 32.7,87.7 30.0,88.0 C27.3,88.3 24.0,87.8 22.0,87.0 C20.0,86.2 17.2,84.2 18.0,83.0Z" fill="#fff"/>
<path d="M30.0,95.0 C30.7,92.3 39.3,91.5 44.0,92.0 C48.7,92.5 55.0,95.7 58.0,98.0 C61.0,100.3 62.7,103.7 62.0,106.0 C61.3,108.3 57.7,111.7 54.0,112.0 C50.3,112.3 44.0,110.8 40.0,108.0 C36.0,105.2 29.3,97.7 30.0,95.0Z" fill="#fff"/>
<path d="M0.0,141.0 C0.8,139.7 3.5,138.7 5.0,139.0 C6.5,139.3 9.0,141.7 9.0,143.0 C9.0,144.3 6.5,146.3 5.0,147.0 C3.5,147.7 0.8,148.0 0.0,147.0 C-0.8,146.0 -0.8,142.3 0.0,141.0Z" fill="#fff"/>
<path d="M92.0,212.0 C92.8,211.2 97.3,210.7 100.0,211.0 C102.7,211.3 107.3,213.0 108.0,214.0 C108.7,215.0 106.2,216.7 104.0,217.0 C101.8,217.3 97.0,216.8 95.0,216.0 C93.0,215.2 91.2,212.8 92.0,212.0Z" fill="#fff"/>
<path d="M121.0,213.0 C121.7,212.5 125.0,211.7 126.0,212.0 C127.0,212.3 127.7,214.5 127.0,215.0 C126.3,215.5 123.0,215.3 122.0,215.0 C121.0,214.7 120.3,213.5 121.0,213.0Z" fill="#fff"/>
<path d="M2.0,80.0 C2.7,79.0 5.8,78.5 7.0,79.0 C8.2,79.5 9.7,82.0 9.0,83.0 C8.3,84.0 4.2,85.5 3.0,85.0 C1.8,84.5 1.3,81.0 2.0,80.0Z" fill="#fff"/>
<path d="M44.0,88.0 C44.5,87.7 51.2,89.3 52.0,90.0 C52.8,90.7 50.3,92.3 49.0,92.0 C47.7,91.7 43.5,88.3 44.0,88.0Z" fill="#fff"/>
<use href="#ol"/>
</g><rect x="0.5" y="0.5" width="311" height="302" fill="none" stroke="#8a8a8a" stroke-width="1.3"/></g>
<g transform="translate(685,391)"><g clip-path="url(#pc)">
<g filter="url(#cm5)"><path d="M-6.0,77.0 C-5.2,67.0 -3.1,77.3 0.0,77.0 C3.1,76.7 13.1,75.1 17.0,75.0 C20.9,74.9 25.5,75.6 29.0,76.5 C32.5,77.4 39.3,79.9 43.0,82.0 C46.7,84.1 53.4,89.1 57.0,92.0 C60.6,94.9 66.1,101.3 70.0,104.0 C73.9,106.7 82.0,110.4 86.0,112.0 C90.0,113.6 96.1,114.9 100.0,116.0 C103.9,117.1 111.3,118.7 115.0,120.0 C118.7,121.3 124.7,123.9 128.0,126.0 C131.3,128.1 136.8,133.3 140.0,136.0 C143.2,138.7 148.5,144.1 152.0,146.0 C155.5,147.9 161.5,150.5 166.0,150.5 C170.5,150.5 180.7,147.1 186.0,146.0 C191.3,144.9 200.3,142.8 206.0,142.0 C211.7,141.2 223.2,140.5 229.0,140.3 C234.8,140.1 244.1,139.7 249.5,140.5 C254.9,141.3 264.6,143.6 269.6,146.3 C274.6,149.0 283.4,156.4 286.8,160.6 C290.2,164.8 294.3,173.2 295.4,177.8 C296.5,182.4 296.5,190.8 295.4,195.0 C294.3,199.2 289.9,206.2 286.8,209.3 C283.7,212.4 276.5,216.4 272.4,218.0 C268.3,219.6 258.5,220.5 256.0,221.5 C253.5,222.5 255.5,225.2 254.0,225.8 C252.5,226.4 246.6,226.3 245.0,225.8 C243.4,225.3 244.1,222.6 242.0,222.0 C239.9,221.4 234.9,220.4 229.4,221.0 C223.9,221.6 206.4,225.3 200.7,226.6 C195.0,227.9 191.0,230.1 186.4,230.9 C181.8,231.7 172.0,232.5 166.3,232.3 C160.6,232.1 148.4,230.2 143.4,229.4 C138.4,228.6 132.8,227.7 129.0,226.6 C125.2,225.5 119.3,223.1 114.7,220.8 C110.1,218.5 100.3,212.0 94.6,209.3 C88.9,206.6 76.7,202.6 71.7,200.7 C66.7,198.8 61.2,196.9 57.4,195.0 C53.6,193.1 46.8,189.1 43.0,186.4 C39.2,183.7 32.1,178.1 28.7,175.0 C25.3,171.9 19.9,166.2 17.2,163.5 C14.5,160.8 10.9,156.5 8.6,155.0 C6.3,153.5 1.9,152.4 0.0,152.0 C-1.9,151.6 -5.2,162.0 -6.0,152.0 C-6.8,142.0 -6.8,87.0 -6.0,77.0Z" fill="#000"/><g clip-path="url(#bc)"><g filter="url(#bd5)"><path d="M136.0,178.0 C138.3,177.0 144.7,172.7 150.0,172.0 C155.3,171.3 162.3,172.7 168.0,174.0 C173.7,175.3 180.0,177.0 184.0,180.0 C188.0,183.0 192.0,187.7 192.0,192.0 C192.0,196.3 188.3,202.3 184.0,206.0 C179.7,209.7 172.3,213.0 166.0,214.0 C159.7,215.0 151.0,213.7 146.0,212.0 C141.0,210.3 137.7,205.3 136.0,204.0" fill="none" stroke="#474747" stroke-width="3.5" stroke-linecap="round" stroke-linejoin="round" opacity="1.00"/><path d="M150.0,186.0 C152.3,185.3 159.3,181.7 164.0,182.0 C168.7,182.3 176.0,185.0 178.0,188.0 C180.0,191.0 179.0,197.3 176.0,200.0 C173.0,202.7 162.7,203.3 160.0,204.0" fill="none" stroke="#4c4c4c" stroke-width="3.0" stroke-linecap="round" stroke-linejoin="round" opacity="1.00"/><path d="M39.0,119.0 C40.0,122.0 42.8,131.8 45.0,137.0 C47.2,142.2 48.5,146.2 52.0,150.0 C55.5,153.8 60.7,157.2 66.0,160.0 C71.3,162.8 78.7,164.7 84.0,167.0 C89.3,169.3 92.3,170.8 98.0,174.0 C103.7,177.2 111.7,183.3 118.0,186.0 C124.3,188.7 129.2,190.5 136.0,190.0 C142.8,189.5 151.3,183.5 159.0,183.0 C166.7,182.5 178.2,186.3 182.0,187.0" fill="none" stroke="#2e2e2e" stroke-width="18.0" stroke-linecap="round" stroke-linejoin="round" opacity="1.00"/><path d="M45.0,137.0 C46.2,139.2 48.5,146.2 52.0,150.0 C55.5,153.8 60.7,157.2 66.0,160.0 C71.3,162.8 78.7,164.7 84.0,167.0 C89.3,169.3 92.3,170.8 98.0,174.0 C103.7,177.2 111.7,183.3 118.0,186.0 C124.3,188.7 133.0,189.3 136.0,190.0" fill="none" stroke="#6e6e6e" stroke-width="10.0" stroke-linecap="round" stroke-linejoin="round" opacity="1.00"/><path d="M52.0,150.0 C54.3,151.7 60.7,157.2 66.0,160.0 C71.3,162.8 78.7,164.7 84.0,167.0 C89.3,169.3 95.7,172.8 98.0,174.0" fill="none" stroke="#999999" stroke-width="5.0" stroke-linecap="round" stroke-linejoin="round" opacity="1.00"/></g></g></g>
<g clip-path="url(#bc)"><g filter="url(#cf5)" fill="none" stroke-linecap="round" stroke-linejoin="round">
<path d="M36.0,146.0 C37.7,147.0 42.3,150.0 46.0,152.0 C49.7,154.0 54.0,156.2 58.0,158.0 C62.0,159.8 68.0,162.2 70.0,163.0" stroke="#ba2049" stroke-width="7.0"/>
<path d="M76.0,163.0 L84.0,167.0" stroke="#ba2049" stroke-width="5.5"/>
<path d="M36.0,146.0 C37.7,147.0 42.3,150.0 46.0,152.0 C49.7,154.0 54.0,156.2 58.0,158.0 C62.0,159.8 68.0,162.2 70.0,163.0" stroke="#9e0142" stroke-width="4.5"/>
<path d="M76.0,163.0 L84.0,167.0" stroke="#9e0142" stroke-width="3.0"/>
</g></g>
<path d="M18.0,83.0 C18.8,81.8 23.7,79.7 27.0,80.0 C30.3,80.3 37.5,83.7 38.0,85.0 C38.5,86.3 32.7,87.7 30.0,88.0 C27.3,88.3 24.0,87.8 22.0,87.0 C20.0,86.2 17.2,84.2 18.0,83.0Z" fill="#fff"/>
<path d="M30.0,95.0 C30.7,92.3 39.3,91.5 44.0,92.0 C48.7,92.5 55.0,95.7 58.0,98.0 C61.0,100.3 62.7,103.7 62.0,106.0 C61.3,108.3 57.7,111.7 54.0,112.0 C50.3,112.3 44.0,110.8 40.0,108.0 C36.0,105.2 29.3,97.7 30.0,95.0Z" fill="#fff"/>
<path d="M0.0,141.0 C0.8,139.7 3.5,138.7 5.0,139.0 C6.5,139.3 9.0,141.7 9.0,143.0 C9.0,144.3 6.5,146.3 5.0,147.0 C3.5,147.7 0.8,148.0 0.0,147.0 C-0.8,146.0 -0.8,142.3 0.0,141.0Z" fill="#fff"/>
<path d="M92.0,212.0 C92.8,211.2 97.3,210.7 100.0,211.0 C102.7,211.3 107.3,213.0 108.0,214.0 C108.7,215.0 106.2,216.7 104.0,217.0 C101.8,217.3 97.0,216.8 95.0,216.0 C93.0,215.2 91.2,212.8 92.0,212.0Z" fill="#fff"/>
<path d="M121.0,213.0 C121.7,212.5 125.0,211.7 126.0,212.0 C127.0,212.3 127.7,214.5 127.0,215.0 C126.3,215.5 123.0,215.3 122.0,215.0 C121.0,214.7 120.3,213.5 121.0,213.0Z" fill="#fff"/>
<path d="M2.0,80.0 C2.7,79.0 5.8,78.5 7.0,79.0 C8.2,79.5 9.7,82.0 9.0,83.0 C8.3,84.0 4.2,85.5 3.0,85.0 C1.8,84.5 1.3,81.0 2.0,80.0Z" fill="#fff"/>
<path d="M44.0,88.0 C44.5,87.7 51.2,89.3 52.0,90.0 C52.8,90.7 50.3,92.3 49.0,92.0 C47.7,91.7 43.5,88.3 44.0,88.0Z" fill="#fff"/>
<use href="#ol"/>
</g><rect x="0.5" y="0.5" width="311" height="302" fill="none" stroke="#8a8a8a" stroke-width="1.3"/></g>
<g transform="translate(45,736)"><g clip-path="url(#pc)">
<g filter="url(#cm6)"><path d="M-6.0,77.0 C-5.2,67.0 -3.1,77.3 0.0,77.0 C3.1,76.7 13.1,75.1 17.0,75.0 C20.9,74.9 25.5,75.6 29.0,76.5 C32.5,77.4 39.3,79.9 43.0,82.0 C46.7,84.1 53.4,89.1 57.0,92.0 C60.6,94.9 66.1,101.3 70.0,104.0 C73.9,106.7 82.0,110.4 86.0,112.0 C90.0,113.6 96.1,114.9 100.0,116.0 C103.9,117.1 111.3,118.7 115.0,120.0 C118.7,121.3 124.7,123.9 128.0,126.0 C131.3,128.1 136.8,133.3 140.0,136.0 C143.2,138.7 148.5,144.1 152.0,146.0 C155.5,147.9 161.5,150.5 166.0,150.5 C170.5,150.5 180.7,147.1 186.0,146.0 C191.3,144.9 200.3,142.8 206.0,142.0 C211.7,141.2 223.2,140.5 229.0,140.3 C234.8,140.1 244.1,139.7 249.5,140.5 C254.9,141.3 264.6,143.6 269.6,146.3 C274.6,149.0 283.4,156.4 286.8,160.6 C290.2,164.8 294.3,173.2 295.4,177.8 C296.5,182.4 296.5,190.8 295.4,195.0 C294.3,199.2 289.9,206.2 286.8,209.3 C283.7,212.4 276.5,216.4 272.4,218.0 C268.3,219.6 258.5,220.5 256.0,221.5 C253.5,222.5 255.5,225.2 254.0,225.8 C252.5,226.4 246.6,226.3 245.0,225.8 C243.4,225.3 244.1,222.6 242.0,222.0 C239.9,221.4 234.9,220.4 229.4,221.0 C223.9,221.6 206.4,225.3 200.7,226.6 C195.0,227.9 191.0,230.1 186.4,230.9 C181.8,231.7 172.0,232.5 166.3,232.3 C160.6,232.1 148.4,230.2 143.4,229.4 C138.4,228.6 132.8,227.7 129.0,226.6 C125.2,225.5 119.3,223.1 114.7,220.8 C110.1,218.5 100.3,212.0 94.6,209.3 C88.9,206.6 76.7,202.6 71.7,200.7 C66.7,198.8 61.2,196.9 57.4,195.0 C53.6,193.1 46.8,189.1 43.0,186.4 C39.2,183.7 32.1,178.1 28.7,175.0 C25.3,171.9 19.9,166.2 17.2,163.5 C14.5,160.8 10.9,156.5 8.6,155.0 C6.3,153.5 1.9,152.4 0.0,152.0 C-1.9,151.6 -5.2,162.0 -6.0,152.0 C-6.8,142.0 -6.8,87.0 -6.0,77.0Z" fill="#000"/><g clip-path="url(#bc)"><g filter="url(#bd6)"><path d="M-4.0,70.0 C6.7,59.5 39.3,65.0 60.0,70.0 C80.7,75.0 102.5,88.3 120.0,100.0 C137.5,111.7 156.7,130.0 165.0,140.0 C173.3,150.0 168.2,152.5 170.0,160.0 C171.8,167.5 173.5,176.7 176.0,185.0 C178.5,193.3 181.8,202.2 185.0,210.0 C188.2,217.8 205.8,228.3 195.0,232.0 C184.2,235.7 135.0,235.3 120.0,232.0 C105.0,228.7 110.3,218.2 105.0,212.0 C99.7,205.8 93.5,200.7 88.0,195.0 C82.5,189.3 76.7,183.3 72.0,178.0 C67.3,172.7 64.0,167.3 60.0,163.0 C56.0,158.7 52.5,155.5 48.0,152.0 C43.5,148.5 38.5,144.8 33.0,142.0 C27.5,139.2 21.2,136.5 15.0,135.0 C8.8,133.5 -0.8,143.8 -4.0,133.0 C-7.2,122.2 -14.7,80.5 -4.0,70.0Z" fill="#5e5e5e" opacity="1.00"/><ellipse cx="85.0" cy="138.0" rx="45.0" ry="17.0" transform="rotate(25.0 85.0 138.0)" fill="#7a7a7a" opacity="1.00"/><ellipse cx="55.0" cy="140.0" rx="13.0" ry="8.0" transform="rotate(0.0 55.0 140.0)" fill="#adadad" opacity="1.00"/><ellipse cx="98.0" cy="130.0" rx="14.0" ry="6.0" transform="rotate(10.0 98.0 130.0)" fill="#a8a8a8" opacity="1.00"/><ellipse cx="76.0" cy="128.0" rx="9.0" ry="5.0" transform="rotate(10.0 76.0 128.0)" fill="#9e9e9e" opacity="1.00"/><ellipse cx="50.0" cy="128.0" rx="6.0" ry="4.0" transform="rotate(0.0 50.0 128.0)" fill="#999999" opacity="1.00"/><ellipse cx="146.0" cy="172.0" rx="26.0" ry="22.0" transform="rotate(0.0 146.0 172.0)" fill="#363636" opacity="1.00"/><ellipse cx="152.0" cy="214.0" rx="32.0" ry="11.0" transform="rotate(0.0 152.0 214.0)" fill="#424242" opacity="1.00"/><ellipse cx="15.0" cy="95.0" rx="20.0" ry="12.0" transform="rotate(0.0 15.0 95.0)" fill="#4c4c4c" opacity="1.00"/><ellipse cx="20.0" cy="118.0" rx="14.0" ry="8.0" transform="rotate(0.0 20.0 118.0)" fill="#383838" opacity="1.00"/><ellipse cx="274.0" cy="162.0" rx="9.0" ry="8.0" transform="rotate(0.0 274.0 162.0)" fill="#383838" opacity="1.00"/><ellipse cx="118.0" cy="200.0" rx="10.0" ry="7.0" transform="rotate(0.0 118.0 200.0)" fill="#4c4c4c" opacity="1.00"/></g></g></g>
<path d="M34.0,98.0 C35.0,96.8 41.0,95.7 44.0,96.0 C47.0,96.3 51.7,98.7 52.0,100.0 C52.3,101.3 48.3,103.5 46.0,104.0 C43.7,104.5 40.0,104.0 38.0,103.0 C36.0,102.0 33.0,99.2 34.0,98.0Z" fill="#fff"/>
<path d="M0.0,141.0 C0.8,139.8 3.7,139.5 5.0,140.0 C6.3,140.5 8.2,142.8 8.0,144.0 C7.8,145.2 5.3,146.5 4.0,147.0 C2.7,147.5 0.7,148.0 0.0,147.0 C-0.7,146.0 -0.8,142.2 0.0,141.0Z" fill="#fff"/>
<path d="M96.0,213.0 C97.0,212.2 102.3,211.5 104.0,212.0 C105.7,212.5 107.0,215.2 106.0,216.0 C105.0,216.8 99.7,217.5 98.0,217.0 C96.3,216.5 95.0,213.8 96.0,213.0Z" fill="#fff"/>
<use href="#ol"/>
</g><rect x="0.5" y="0.5" width="311" height="302" fill="none" stroke="#8a8a8a" stroke-width="1.3"/></g>
<g transform="translate(365,736)"><g clip-path="url(#pc)">
<g filter="url(#cm7)"><path d="M-6.0,77.0 C-5.2,67.0 -3.1,77.3 0.0,77.0 C3.1,76.7 13.1,75.1 17.0,75.0 C20.9,74.9 25.5,75.6 29.0,76.5 C32.5,77.4 39.3,79.9 43.0,82.0 C46.7,84.1 53.4,89.1 57.0,92.0 C60.6,94.9 66.1,101.3 70.0,104.0 C73.9,106.7 82.0,110.4 86.0,112.0 C90.0,113.6 96.1,114.9 100.0,116.0 C103.9,117.1 111.3,118.7 115.0,120.0 C118.7,121.3 124.7,123.9 128.0,126.0 C131.3,128.1 136.8,133.3 140.0,136.0 C143.2,138.7 148.5,144.1 152.0,146.0 C155.5,147.9 161.5,150.5 166.0,150.5 C170.5,150.5 180.7,147.1 186.0,146.0 C191.3,144.9 200.3,142.8 206.0,142.0 C211.7,141.2 223.2,140.5 229.0,140.3 C234.8,140.1 244.1,139.7 249.5,140.5 C254.9,141.3 264.6,143.6 269.6,146.3 C274.6,149.0 283.4,156.4 286.8,160.6 C290.2,164.8 294.3,173.2 295.4,177.8 C296.5,182.4 296.5,190.8 295.4,195.0 C294.3,199.2 289.9,206.2 286.8,209.3 C283.7,212.4 276.5,216.4 272.4,218.0 C268.3,219.6 258.5,220.5 256.0,221.5 C253.5,222.5 255.5,225.2 254.0,225.8 C252.5,226.4 246.6,226.3 245.0,225.8 C243.4,225.3 244.1,222.6 242.0,222.0 C239.9,221.4 234.9,220.4 229.4,221.0 C223.9,221.6 206.4,225.3 200.7,226.6 C195.0,227.9 191.0,230.1 186.4,230.9 C181.8,231.7 172.0,232.5 166.3,232.3 C160.6,232.1 148.4,230.2 143.4,229.4 C138.4,228.6 132.8,227.7 129.0,226.6 C125.2,225.5 119.3,223.1 114.7,220.8 C110.1,218.5 100.3,212.0 94.6,209.3 C88.9,206.6 76.7,202.6 71.7,200.7 C66.7,198.8 61.2,196.9 57.4,195.0 C53.6,193.1 46.8,189.1 43.0,186.4 C39.2,183.7 32.1,178.1 28.7,175.0 C25.3,171.9 19.9,166.2 17.2,163.5 C14.5,160.8 10.9,156.5 8.6,155.0 C6.3,153.5 1.9,152.4 0.0,152.0 C-1.9,151.6 -5.2,162.0 -6.0,152.0 C-6.8,142.0 -6.8,87.0 -6.0,77.0Z" fill="#000"/><g clip-path="url(#bc)"><g filter="url(#bd7)"><path d="M-4.0,70.0 C6.7,59.5 39.3,65.0 60.0,70.0 C80.7,75.0 102.5,88.3 120.0,100.0 C137.5,111.7 156.7,130.0 165.0,140.0 C173.3,150.0 168.2,152.5 170.0,160.0 C171.8,167.5 173.5,176.7 176.0,185.0 C178.5,193.3 181.8,202.2 185.0,210.0 C188.2,217.8 205.8,228.3 195.0,232.0 C184.2,235.7 135.0,235.3 120.0,232.0 C105.0,228.7 110.3,218.2 105.0,212.0 C99.7,205.8 93.5,200.7 88.0,195.0 C82.5,189.3 76.7,183.3 72.0,178.0 C67.3,172.7 64.0,167.3 60.0,163.0 C56.0,158.7 52.5,155.5 48.0,152.0 C43.5,148.5 38.5,144.8 33.0,142.0 C27.5,139.2 21.2,136.5 15.0,135.0 C8.8,133.5 -0.8,143.8 -4.0,133.0 C-7.2,122.2 -14.7,80.5 -4.0,70.0Z" fill="#545454" opacity="1.00"/><ellipse cx="80.0" cy="136.0" rx="40.0" ry="15.0" transform="rotate(25.0 80.0 136.0)" fill="#696969" opacity="1.00"/><ellipse cx="62.0" cy="142.0" rx="10.0" ry="6.0" transform="rotate(0.0 62.0 142.0)" fill="#757575" opacity="1.00"/><ellipse cx="132.0" cy="168.0" rx="30.0" ry="22.0" transform="rotate(0.0 132.0 168.0)" fill="#363636" opacity="1.00"/><ellipse cx="150.0" cy="214.0" rx="34.0" ry="12.0" transform="rotate(0.0 150.0 214.0)" fill="#404040" opacity="1.00"/><ellipse cx="15.0" cy="95.0" rx="20.0" ry="12.0" transform="rotate(0.0 15.0 95.0)" fill="#4a4a4a" opacity="1.00"/><ellipse cx="20.0" cy="118.0" rx="14.0" ry="8.0" transform="rotate(0.0 20.0 118.0)" fill="#333333" opacity="1.00"/><ellipse cx="272.0" cy="160.0" rx="9.0" ry="7.0" transform="rotate(0.0 272.0 160.0)" fill="#383838" opacity="1.00"/><ellipse cx="100.0" cy="190.0" rx="10.0" ry="6.0" transform="rotate(0.0 100.0 190.0)" fill="#4c4c4c" opacity="1.00"/></g></g></g>
<path d="M34.0,98.0 C35.0,96.8 41.0,95.7 44.0,96.0 C47.0,96.3 51.7,98.7 52.0,100.0 C52.3,101.3 48.3,103.5 46.0,104.0 C43.7,104.5 40.0,104.0 38.0,103.0 C36.0,102.0 33.0,99.2 34.0,98.0Z" fill="#fff"/>
<path d="M0.0,141.0 C0.8,139.8 3.7,139.5 5.0,140.0 C6.3,140.5 8.2,142.8 8.0,144.0 C7.8,145.2 5.3,146.5 4.0,147.0 C2.7,147.5 0.7,148.0 0.0,147.0 C-0.7,146.0 -0.8,142.2 0.0,141.0Z" fill="#fff"/>
<path d="M96.0,213.0 C97.0,212.2 102.3,211.5 104.0,212.0 C105.7,212.5 107.0,215.2 106.0,216.0 C105.0,216.8 99.7,217.5 98.0,217.0 C96.3,216.5 95.0,213.8 96.0,213.0Z" fill="#fff"/>
<use href="#ol"/>
</g><rect x="0.5" y="0.5" width="311" height="302" fill="none" stroke="#8a8a8a" stroke-width="1.3"/></g>
<g transform="translate(685,736)"><g clip-path="url(#pc)">
<g filter="url(#cm8)"><path d="M-6.0,77.0 C-5.2,67.0 -3.1,77.3 0.0,77.0 C3.1,76.7 13.1,75.1 17.0,75.0 C20.9,74.9 25.5,75.6 29.0,76.5 C32.5,77.4 39.3,79.9 43.0,82.0 C46.7,84.1 53.4,89.1 57.0,92.0 C60.6,94.9 66.1,101.3 70.0,104.0 C73.9,106.7 82.0,110.4 86.0,112.0 C90.0,113.6 96.1,114.9 100.0,116.0 C103.9,117.1 111.3,118.7 115.0,120.0 C118.7,121.3 124.7,123.9 128.0,126.0 C131.3,128.1 136.8,133.3 140.0,136.0 C143.2,138.7 148.5,144.1 152.0,146.0 C155.5,147.9 161.5,150.5 166.0,150.5 C170.5,150.5 180.7,147.1 186.0,146.0 C191.3,144.9 200.3,142.8 206.0,142.0 C211.7,141.2 223.2,140.5 229.0,140.3 C234.8,140.1 244.1,139.7 249.5,140.5 C254.9,141.3 264.6,143.6 269.6,146.3 C274.6,149.0 283.4,156.4 286.8,160.6 C290.2,164.8 294.3,173.2 295.4,177.8 C296.5,182.4 296.5,190.8 295.4,195.0 C294.3,199.2 289.9,206.2 286.8,209.3 C283.7,212.4 276.5,216.4 272.4,218.0 C268.3,219.6 258.5,220.5 256.0,221.5 C253.5,222.5 255.5,225.2 254.0,225.8 C252.5,226.4 246.6,226.3 245.0,225.8 C243.4,225.3 244.1,222.6 242.0,222.0 C239.9,221.4 234.9,220.4 229.4,221.0 C223.9,221.6 206.4,225.3 200.7,226.6 C195.0,227.9 191.0,230.1 186.4,230.9 C181.8,231.7 172.0,232.5 166.3,232.3 C160.6,232.1 148.4,230.2 143.4,229.4 C138.4,228.6 132.8,227.7 129.0,226.6 C125.2,225.5 119.3,223.1 114.7,220.8 C110.1,218.5 100.3,212.0 94.6,209.3 C88.9,206.6 76.7,202.6 71.7,200.7 C66.7,198.8 61.2,196.9 57.4,195.0 C53.6,193.1 46.8,189.1 43.0,186.4 C39.2,183.7 32.1,178.1 28.7,175.0 C25.3,171.9 19.9,166.2 17.2,163.5 C14.5,160.8 10.9,156.5 8.6,155.0 C6.3,153.5 1.9,152.4 0.0,152.0 C-1.9,151.6 -5.2,162.0 -6.0,152.0 C-6.8,142.0 -6.8,87.0 -6.0,77.0Z" fill="#000"/><g clip-path="url(#bc)"><g filter="url(#bd8)"><path d="M-4.0,70.0 C6.7,59.5 41.8,65.0 60.0,70.0 C78.2,75.0 94.7,91.3 105.0,100.0 C115.3,108.7 116.5,113.7 122.0,122.0 C127.5,130.3 132.3,140.3 138.0,150.0 C143.7,159.7 150.7,170.0 156.0,180.0 C161.3,190.0 166.0,201.3 170.0,210.0 C174.0,218.7 188.3,228.3 180.0,232.0 C171.7,235.7 132.5,235.3 120.0,232.0 C107.5,228.7 110.3,218.2 105.0,212.0 C99.7,205.8 93.5,200.7 88.0,195.0 C82.5,189.3 76.7,183.3 72.0,178.0 C67.3,172.7 64.0,167.3 60.0,163.0 C56.0,158.7 52.5,155.5 48.0,152.0 C43.5,148.5 38.5,144.8 33.0,142.0 C27.5,139.2 21.2,136.5 15.0,135.0 C8.8,133.5 -0.8,143.8 -4.0,133.0 C-7.2,122.2 -14.7,80.5 -4.0,70.0Z" fill="#595959" opacity="1.00"/><ellipse cx="82.0" cy="132.0" rx="45.0" ry="14.0" transform="rotate(25.0 82.0 132.0)" fill="#737373" opacity="1.00"/><ellipse cx="55.0" cy="142.0" rx="9.0" ry="6.0" transform="rotate(0.0 55.0 142.0)" fill="#9e9e9e" opacity="1.00"/><ellipse cx="95.0" cy="126.0" rx="12.0" ry="5.0" transform="rotate(10.0 95.0 126.0)" fill="#808080" opacity="1.00"/><ellipse cx="140.0" cy="172.0" rx="30.0" ry="24.0" transform="rotate(0.0 140.0 172.0)" fill="#363636" opacity="1.00"/><ellipse cx="152.0" cy="214.0" rx="32.0" ry="11.0" transform="rotate(0.0 152.0 214.0)" fill="#404040" opacity="1.00"/><ellipse cx="15.0" cy="98.0" rx="20.0" ry="12.0" transform="rotate(0.0 15.0 98.0)" fill="#424242" opacity="1.00"/><ellipse cx="20.0" cy="118.0" rx="14.0" ry="8.0" transform="rotate(0.0 20.0 118.0)" fill="#333333" opacity="1.00"/><ellipse cx="272.0" cy="160.0" rx="9.0" ry="8.0" transform="rotate(0.0 272.0 160.0)" fill="#383838" opacity="1.00"/></g></g></g>
<path d="M34.0,98.0 C35.0,96.8 41.0,95.7 44.0,96.0 C47.0,96.3 51.7,98.7 52.0,100.0 C52.3,101.3 48.3,103.5 46.0,104.0 C43.7,104.5 40.0,104.0 38.0,103.0 C36.0,102.0 33.0,99.2 34.0,98.0Z" fill="#fff"/>
<path d="M0.0,141.0 C0.8,139.8 3.7,139.5 5.0,140.0 C6.3,140.5 8.2,142.8 8.0,144.0 C7.8,145.2 5.3,146.5 4.0,147.0 C2.7,147.5 0.7,148.0 0.0,147.0 C-0.7,146.0 -0.8,142.2 0.0,141.0Z" fill="#fff"/>
<path d="M96.0,213.0 C97.0,212.2 102.3,211.5 104.0,212.0 C105.7,212.5 107.0,215.2 106.0,216.0 C105.0,216.8 99.7,217.5 98.0,217.0 C96.3,216.5 95.0,213.8 96.0,213.0Z" fill="#fff"/>
<use href="#ol"/>
</g><rect x="0.5" y="0.5" width="311" height="302" fill="none" stroke="#8a8a8a" stroke-width="1.3"/></g>
<g>
<rect x="1022" y="334.32" width="19" height="15.28" fill="#5e4fa2"/>
<rect x="1022" y="319.65" width="19" height="15.28" fill="#486cb0"/>
<rect x="1022" y="304.98" width="19" height="15.28" fill="#3389bd"/>
<rect x="1022" y="290.30" width="19" height="15.28" fill="#50a9af"/>
<rect x="1022" y="275.62" width="19" height="15.28" fill="#6bc4a5"/>
<rect x="1022" y="260.95" width="19" height="15.28" fill="#91d3a4"/>
<rect x="1022" y="246.27" width="19" height="15.28" fill="#b3e0a2"/>
<rect x="1022" y="231.60" width="19" height="15.28" fill="#d3ed9c"/>
<rect x="1022" y="216.92" width="19" height="15.28" fill="#ebf7a0"/>
<rect x="1022" y="202.25" width="19" height="15.28" fill="#f9fcb5"/>
<rect x="1022" y="187.57" width="19" height="15.28" fill="#fff7b2"/>
<rect x="1022" y="172.90" width="19" height="15.28" fill="#fee695"/>
<rect x="1022" y="158.22" width="19" height="15.28" fill="#fed07e"/>
<rect x="1022" y="143.55" width="19" height="15.28" fill="#fdb567"/>
<rect x="1022" y="128.88" width="19" height="15.28" fill="#fa9656"/>
<rect x="1022" y="114.20" width="19" height="15.28" fill="#f57245"/>
<rect x="1022" y="99.52" width="19" height="15.28" fill="#e75948"/>
<rect x="1022" y="84.85" width="19" height="15.28" fill="#d63f4f"/>
<rect x="1022" y="70.18" width="19" height="15.28" fill="#ba2049"/>
<rect x="1022" y="55.50" width="19" height="15.28" fill="#9e0142"/>
<path d="M1022,56.0 L1031.5,46 L1041,56.0 Z" fill="#9e0142"/>
<line x1="1038" y1="349.0" x2="1041" y2="349.0" stroke="#555" stroke-width="0.8"/>
<text x="1047.5" y="354.3" font-family="Liberation Sans, Arial, sans-serif" font-weight="bold" font-size="18.5" fill="#000">0</text>
<line x1="1038" y1="290.9" x2="1041" y2="290.9" stroke="#555" stroke-width="0.8"/>
<text x="1047.5" y="296.2" font-family="Liberation Sans, Arial, sans-serif" font-weight="bold" font-size="18.5" fill="#000">50</text>
<line x1="1038" y1="232.8" x2="1041" y2="232.8" stroke="#555" stroke-width="0.8"/>
<text x="1047.5" y="238.1" font-family="Liberation Sans, Arial, sans-serif" font-weight="bold" font-size="18.5" fill="#000">100</text>
<line x1="1038" y1="174.7" x2="1041" y2="174.7" stroke="#555" stroke-width="0.8"/>
<text x="1047.5" y="180.0" font-family="Liberation Sans, Arial, sans-serif" font-weight="bold" font-size="18.5" fill="#000">150</text>
<line x1="1038" y1="116.6" x2="1041" y2="116.6" stroke="#555" stroke-width="0.8"/>
<text x="1047.5" y="121.9" font-family="Liberation Sans, Arial, sans-serif" font-weight="bold" font-size="18.5" fill="#000">200</text>
<line x1="1038" y1="58.5" x2="1041" y2="58.5" stroke="#555" stroke-width="0.8"/>
<text x="1047.5" y="63.8" font-family="Liberation Sans, Arial, sans-serif" font-weight="bold" font-size="18.5" fill="#000">250</text>
</g>
<g>
<rect x="1022" y="679.33" width="19" height="15.28" fill="#5e4fa2"/>
<rect x="1022" y="664.65" width="19" height="15.28" fill="#486cb0"/>
<rect x="1022" y="649.98" width="19" height="15.28" fill="#3389bd"/>
<rect x="1022" y="635.30" width="19" height="15.28" fill="#50a9af"/>
<rect x="1022" y="620.62" width="19" height="15.28" fill="#6bc4a5"/>
<rect x="1022" y="605.95" width="19" height="15.28" fill="#91d3a4"/>
<rect x="1022" y="591.27" width="19" height="15.28" fill="#b3e0a2"/>
<rect x="1022" y="576.60" width="19" height="15.28" fill="#d3ed9c"/>
<rect x="1022" y="561.92" width="19" height="15.28" fill="#ebf7a0"/>
<rect x="1022" y="547.25" width="19" height="15.28" fill="#f9fcb5"/>
<rect x="1022" y="532.58" width="19" height="15.28" fill="#fff7b2"/>
<rect x="1022" y="517.90" width="19" height="15.28" fill="#fee695"/>
<rect x="1022" y="503.23" width="19" height="15.28" fill="#fed07e"/>
<rect x="1022" y="488.55" width="19" height="15.28" fill="#fdb567"/>
<rect x="1022" y="473.88" width="19" height="15.28" fill="#fa9656"/>
<rect x="1022" y="459.20" width="19" height="15.28" fill="#f57245"/>
<rect x="1022" y="444.52" width="19" height="15.28" fill="#e75948"/>
<rect x="1022" y="429.85" width="19" height="15.28" fill="#d63f4f"/>
<rect x="1022" y="415.18" width="19" height="15.28" fill="#ba2049"/>
<rect x="1022" y="400.50" width="19" height="15.28" fill="#9e0142"/>
<path d="M1022,401.0 L1031.5,391 L1041,401.0 Z" fill="#9e0142"/>
<line x1="1038" y1="694.0" x2="1041" y2="694.0" stroke="#555" stroke-width="0.8"/>
<text x="1047.5" y="699.3" font-family="Liberation Sans, Arial, sans-serif" font-weight="bold" font-size="18.5" fill="#000">0</text>
<line x1="1038" y1="635.9" x2="1041" y2="635.9" stroke="#555" stroke-width="0.8"/>
<text x="1047.5" y="641.2" font-family="Liberation Sans, Arial, sans-serif" font-weight="bold" font-size="18.5" fill="#000">10</text>
<line x1="1038" y1="577.8" x2="1041" y2="577.8" stroke="#555" stroke-width="0.8"/>
<text x="1047.5" y="583.1" font-family="Liberation Sans, Arial, sans-serif" font-weight="bold" font-size="18.5" fill="#000">20</text>
<line x1="1038" y1="519.7" x2="1041" y2="519.7" stroke="#555" stroke-width="0.8"/>
<text x="1047.5" y="525.0" font-family="Liberation Sans, Arial, sans-serif" font-weight="bold" font-size="18.5" fill="#000">30</text>
<line x1="1038" y1="461.6" x2="1041" y2="461.6" stroke="#555" stroke-width="0.8"/>
<text x="1047.5" y="466.9" font-family="Liberation Sans, Arial, sans-serif" font-weight="bold" font-size="18.5" fill="#000">40</text>
<line x1="1038" y1="403.5" x2="1041" y2="403.5" stroke="#555" stroke-width="0.8"/>
<text x="1047.5" y="408.8" font-family="Liberation Sans, Arial, sans-serif" font-weight="bold" font-size="18.5" fill="#000">50</text>
</g>
<g>
<rect x="1022" y="1024.33" width="19" height="15.28" fill="#5e4fa2"/>
<rect x="1022" y="1009.65" width="19" height="15.28" fill="#486cb0"/>
<rect x="1022" y="994.98" width="19" height="15.28" fill="#3389bd"/>
<rect x="1022" y="980.30" width="19" height="15.28" fill="#50a9af"/>
<rect x="1022" y="965.62" width="19" height="15.28" fill="#6bc4a5"/>
<rect x="1022" y="950.95" width="19" height="15.28" fill="#91d3a4"/>
<rect x="1022" y="936.27" width="19" height="15.28" fill="#b3e0a2"/>
<rect x="1022" y="921.60" width="19" height="15.28" fill="#d3ed9c"/>
<rect x="1022" y="906.92" width="19" height="15.28" fill="#ebf7a0"/>
<rect x="1022" y="892.25" width="19" height="15.28" fill="#f9fcb5"/>
<rect x="1022" y="877.58" width="19" height="15.28" fill="#fff7b2"/>
<rect x="1022" y="862.90" width="19" height="15.28" fill="#fee695"/>
<rect x="1022" y="848.23" width="19" height="15.28" fill="#fed07e"/>
<rect x="1022" y="833.55" width="19" height="15.28" fill="#fdb567"/>
<rect x="1022" y="818.88" width="19" height="15.28" fill="#fa9656"/>
<rect x="1022" y="804.20" width="19" height="15.28" fill="#f57245"/>
<rect x="1022" y="789.52" width="19" height="15.28" fill="#e75948"/>
<rect x="1022" y="774.85" width="19" height="15.28" fill="#d63f4f"/>
<rect x="1022" y="760.17" width="19" height="15.28" fill="#ba2049"/>
<rect x="1022" y="745.50" width="19" height="15.28" fill="#9e0142"/>
<path d="M1022,746.0 L1031.5,736 L1041,746.0 Z" fill="#9e0142"/>
<line x1="1038" y1="1039.0" x2="1041" y2="1039.0" stroke="#555" stroke-width="0.8"/>
<text x="1047.5" y="1044.3" font-family="Liberation Sans, Arial, sans-serif" font-weight="bold" font-size="18.5" fill="#000">0</text>
<line x1="1038" y1="942.2" x2="1041" y2="942.2" stroke="#555" stroke-width="0.8"/>
<text x="1047.5" y="947.5" font-family="Liberation Sans, Arial, sans-serif" font-weight="bold" font-size="18.5" fill="#000">0.1</text>
<line x1="1038" y1="845.3" x2="1041" y2="845.3" stroke="#555" stroke-width="0.8"/>
<text x="1047.5" y="850.6" font-family="Liberation Sans, Arial, sans-serif" font-weight="bold" font-size="18.5" fill="#000">0.2</text>
<line x1="1038" y1="748.5" x2="1041" y2="748.5" stroke="#555" stroke-width="0.8"/>
<text x="1047.5" y="753.8" font-family="Liberation Sans, Arial, sans-serif" font-weight="bold" font-size="18.5" fill="#000">0.3</text>
</g>
<text x="127.9" y="32.2" font-family="Liberation Sans, Arial, sans-serif" font-weight="bold" font-size="37.4" fill="#000">LULCCrop</text>
<text x="405.2" y="32.2" font-family="Liberation Sans, Arial, sans-serif" font-weight="bold" font-size="37.4" fill="#000">CropToForest</text>
<text x="735.1" y="32.2" font-family="Liberation Sans, Arial, sans-serif" font-weight="bold" font-size="37.4" fill="#000">CropToShrub</text>
<text transform="translate(28.1,285.5) rotate(-90)" font-family="Liberation Serif, Times New Roman, serif" fill="#000"><tspan font-family="DejaVu Serif, serif" font-weight="bold" font-style="italic" font-size="34.5">P</tspan><tspan font-family="DejaVu Serif, serif" font-weight="bold" font-style="italic" font-size="25.8" dy="7.4">Total</tspan><tspan font-size="36" dy="-7.4" dx="4.0"> (mm)</tspan></text>
<text transform="translate(25.6,651.0) rotate(-90)" font-family="Liberation Serif, Times New Roman, serif" fill="#000"><tspan font-family="DejaVu Serif, serif" font-weight="bold" font-style="italic" font-size="34.5">P</tspan><tspan font-family="DejaVu Serif, serif" font-weight="bold" font-style="italic" font-size="25.8" dy="7.4">Tagged</tspan><tspan font-size="36" dy="-7.4" dx="0.0"> (mm)</tspan></text>
<text transform="translate(28,895.4) rotate(-90)" text-anchor="middle" font-family="Liberation Serif, Times New Roman, serif" font-weight="bold" font-style="italic" font-size="39" fill="#000">&#x3D1;</text>
<g>
<rect x="1160.5" y="42.2" width="562.8" height="930.6" fill="#fff" stroke="#262626" stroke-width="1.4"/>
<path d="M1262.9,972.8 v-5.5 M1365.3,972.8 v-5.5 M1467.7,972.8 v-5.5 M1570.1,972.8 v-5.5 M1672.5,972.8 v-5.5 M1285.7,42.2 v10 M1410.9,42.2 v10 M1536.1,42.2 v10 M1661.3,42.2 v10 M1160.5,839.6 h10 M1723.3,839.6 h-10 M1160.5,706.7 h10 M1723.3,706.7 h-10 M1160.5,573.8 h10 M1723.3,573.8 h-10 M1160.5,440.9 h10 M1723.3,440.9 h-10 M1160.5,308.0 h10 M1723.3,308.0 h-10 M1160.5,175.1 h10 M1723.3,175.1 h-10 " stroke="#262626" stroke-width="1.4" fill="none"/>
<path d="M1178.0,948.5 L1185.0,918.5 L1198.2,906.8 L1223.0,902.0 L1235.0,848.0 L1248.2,838.0 L1273.0,831.5 L1285.0,779.9 L1298.2,769.0 L1323.0,761.7 L1335.0,707.0 L1348.2,698.7 L1373.0,691.5 L1385.0,635.8 L1398.2,625.2 L1423.0,618.6 L1435.0,564.6 L1448.2,555.6 L1473.0,549.0 L1485.0,493.5 L1498.2,485.3 L1523.0,478.4 L1535.0,423.4 L1548.2,413.7 L1573.0,408.0 L1585.0,352.0 L1598.2,341.4 L1623.0,336.0 L1635.0,282.4 L1648.2,272.3 L1673.0,266.2 L1685.0,215.5 L1698.2,205.8 L1722.8,200.4" fill="none" stroke="#377eb8" stroke-width="3.6" stroke-linejoin="round"/>
<path d="M1178.0,948.5 L1185.0,936.6 L1198.2,928.0 L1223.0,922.0 L1235.0,885.5 L1248.2,876.0 L1273.0,869.4 L1285.0,832.9 L1298.2,824.6 L1323.0,818.0 L1335.0,781.6 L1348.2,772.3 L1373.0,764.3 L1385.0,726.9 L1398.2,717.0 L1423.0,710.3 L1435.0,670.6 L1448.2,662.3 L1473.0,656.3 L1485.0,616.7 L1498.2,609.3 L1523.0,603.9 L1535.0,565.6 L1548.2,557.2 L1573.0,550.3 L1585.0,512.2 L1598.2,503.5 L1623.0,497.0 L1635.0,460.0 L1648.2,452.0 L1673.0,446.0 L1685.0,411.9 L1698.2,403.6 L1722.8,398.2" fill="none" stroke="#4daf4a" stroke-width="3.6" stroke-linejoin="round"/>
<path d="M1178.0,948.5 L1185.0,917.2 L1198.2,904.9 L1223.0,899.2 L1235.0,843.9 L1248.2,832.8 L1273.0,826.0 L1285.0,773.3 L1298.2,760.0 L1323.0,753.4 L1335.0,697.0 L1348.2,685.5 L1373.0,678.9 L1385.0,622.6 L1398.2,611.0 L1423.0,604.3 L1435.0,546.4 L1448.2,536.4 L1473.0,530.5 L1485.0,472.7 L1498.2,463.0 L1523.0,457.5 L1535.0,400.0 L1548.2,390.3 L1573.0,384.5 L1585.0,328.8 L1598.2,318.0 L1623.0,312.6 L1635.0,256.0 L1648.2,246.4 L1673.0,240.6 L1685.0,189.6 L1698.2,178.8 L1722.8,173.4" fill="none" stroke="#e41a1c" stroke-width="3.6" stroke-linejoin="round"/>
<path d="M1178.0,948.5 L1185.0,949.0 L1198.2,949.0 L1223.0,949.0 L1235.0,938.0 L1248.2,937.0 L1273.0,936.2 L1285.0,921.5 L1298.2,920.5 L1323.0,919.7 L1335.0,904.0 L1348.2,903.0 L1373.0,902.2 L1385.0,885.5 L1398.2,884.5 L1423.0,883.7 L1435.0,866.0 L1448.2,865.0 L1473.0,864.2 L1485.0,847.5 L1498.2,846.5 L1523.0,845.7 L1535.0,829.0 L1548.2,828.0 L1573.0,827.2 L1585.0,812.0 L1598.2,811.0 L1623.0,810.2 L1635.0,795.0 L1648.2,794.0 L1673.0,793.2 L1685.0,778.5 L1698.2,777.5 L1722.8,776.7" fill="none" stroke="#e41a1c" stroke-width="3.6" stroke-linejoin="round" stroke-dasharray="15 16" stroke-dashoffset="17.3"/>
<path d="M1178.0,948.5 L1185.0,941.5 L1198.2,940.5 L1223.0,939.7 L1235.0,910.5 L1248.2,909.5 L1273.0,908.7 L1285.0,880.0 L1298.2,879.0 L1323.0,878.2 L1335.0,848.0 L1348.2,847.0 L1373.0,846.2 L1385.0,814.0 L1398.2,813.0 L1423.0,812.2 L1435.0,779.0 L1448.2,778.0 L1473.0,777.2 L1485.0,744.0 L1498.2,743.0 L1523.0,742.2 L1535.0,709.0 L1548.2,708.0 L1573.0,707.2 L1585.0,675.0 L1598.2,674.0 L1623.0,673.2 L1635.0,642.0 L1648.2,641.0 L1673.0,640.2 L1685.0,609.5 L1698.2,608.5 L1722.8,607.7" fill="none" stroke="#4daf4a" stroke-width="3.6" stroke-linejoin="round" stroke-dasharray="15 16" stroke-dashoffset="24.0"/>
<path d="M1178.0,948.5 L1185.0,949.0 L1198.2,949.0 L1223.0,949.0 L1235.0,930.0 L1248.2,929.0 L1273.0,928.2 L1285.0,909.0 L1298.2,908.0 L1323.0,907.2 L1335.0,888.0 L1348.2,887.0 L1373.0,886.2 L1385.0,865.0 L1398.2,864.0 L1423.0,863.2 L1435.0,841.5 L1448.2,840.5 L1473.0,839.7 L1485.0,818.5 L1498.2,817.5 L1523.0,816.7 L1535.0,796.0 L1548.2,795.0 L1573.0,794.2 L1585.0,775.0 L1598.2,774.0 L1623.0,773.2 L1635.0,755.0 L1648.2,754.0 L1673.0,753.2 L1685.0,735.0 L1698.2,734.0 L1722.8,733.2" fill="none" stroke="#377eb8" stroke-width="3.6" stroke-linejoin="round" stroke-dasharray="15 16" stroke-dashoffset="17.3"/>
<rect x="1176.6" y="58.4" width="436.4" height="237.6" fill="#fff" stroke="#262626" stroke-width="1.2"/>
<line x1="1182.6" y1="80.7" x2="1242.9" y2="80.7" stroke="#377eb8" stroke-width="3.6"/>
<text x="1248" y="92.0" font-family="Liberation Sans, Arial, sans-serif" font-size="29.3" fill="#000">Evaporation LULCCrop</text>
<line x1="1182.6" y1="119.5" x2="1242.9" y2="119.5" stroke="#4daf4a" stroke-width="3.6"/>
<text x="1248" y="130.8" font-family="Liberation Sans, Arial, sans-serif" font-size="29.3" fill="#000">Evaporation CropToForest</text>
<line x1="1182.6" y1="158.3" x2="1242.9" y2="158.3" stroke="#e41a1c" stroke-width="3.6"/>
<text x="1248" y="169.6" font-family="Liberation Sans, Arial, sans-serif" font-size="29.3" fill="#000">Evaporation CropToShrub</text>
<path d="M1182.6,197.1 h15 M1215,197.1 h15" stroke="#377eb8" stroke-width="3.6"/>
<text x="1248" y="208.4" font-family="Liberation Sans, Arial, sans-serif" font-size="29.3" fill="#000">Transpiration LULCCrop</text>
<path d="M1182.6,235.9 h15 M1215,235.9 h15" stroke="#4daf4a" stroke-width="3.6"/>
<text x="1248" y="247.2" font-family="Liberation Sans, Arial, sans-serif" font-size="29.3" fill="#000">Transpiration CropToForest</text>
<path d="M1182.6,274.7 h15 M1215,274.7 h15" stroke="#e41a1c" stroke-width="3.6"/>
<text x="1248" y="286.0" font-family="Liberation Sans, Arial, sans-serif" font-size="29.3" fill="#000">Transpiration CropToShrub</text>
<text x="1148.5" y="852.9" text-anchor="end" font-family="Liberation Sans, Arial, sans-serif" font-size="33" fill="#262626">1</text>
<text x="1148.5" y="720.0" text-anchor="end" font-family="Liberation Sans, Arial, sans-serif" font-size="33" fill="#262626">2</text>
<text x="1148.5" y="587.1" text-anchor="end" font-family="Liberation Sans, Arial, sans-serif" font-size="33" fill="#262626">3</text>
<text x="1148.5" y="454.2" text-anchor="end" font-family="Liberation Sans, Arial, sans-serif" font-size="33" fill="#262626">4</text>
<text x="1148.5" y="321.3" text-anchor="end" font-family="Liberation Sans, Arial, sans-serif" font-size="33" fill="#262626">5</text>
<text x="1148.5" y="188.4" text-anchor="end" font-family="Liberation Sans, Arial, sans-serif" font-size="33" fill="#262626">6</text>
<text x="1148.5" y="55.5" text-anchor="end" font-family="Liberation Sans, Arial, sans-serif" font-size="33" fill="#262626">7</text>
<text x="1160.5" y="1011.3" text-anchor="middle" font-family="Liberation Sans, Arial, sans-serif" font-size="28.5" fill="#262626">24/09</text>
<text x="1262.9" y="1011.3" text-anchor="middle" font-family="Liberation Sans, Arial, sans-serif" font-size="28.5" fill="#262626">26/09</text>
<text x="1365.3" y="1011.3" text-anchor="middle" font-family="Liberation Sans, Arial, sans-serif" font-size="28.5" fill="#262626">28/09</text>
<text x="1467.7" y="1011.3" text-anchor="middle" font-family="Liberation Sans, Arial, sans-serif" font-size="28.5" fill="#262626">30/09</text>
<text x="1570.1" y="1011.3" text-anchor="middle" font-family="Liberation Sans, Arial, sans-serif" font-size="28.5" fill="#262626">02/10</text>
<text x="1672.5" y="1011.3" text-anchor="middle" font-family="Liberation Sans, Arial, sans-serif" font-size="28.5" fill="#262626">04/10</text>
<text x="1638.5" y="1047.4" font-family="Liberation Sans, Arial, sans-serif" font-size="28.5" fill="#262626">2021</text>
<text x="1347.5" y="1049.5" font-family="Liberation Sans, Arial, sans-serif" font-size="30.9" fill="#262626">Time (dd/mm)</text>
<text x="1160" y="34.8" font-family="DejaVu Sans, sans-serif" font-weight="200" font-size="32.5" fill="#262626">&#xD7;</text>
<text x="1186.5" y="34.8" font-family="Liberation Sans, Arial, sans-serif" font-size="32.5" fill="#262626">10</text>
<text x="1222" y="18.4" font-family="Liberation Sans, Arial, sans-serif" font-size="25" fill="#262626">-4</text>
<text transform="translate(1125,545.5) rotate(-90)" text-anchor="middle" font-family="Liberation Sans, Arial, sans-serif" font-weight="bold" font-size="37" fill="#000">Cumulative Evaporation and Transpiration (mm/s)</text>
</g>
</svg></body></html>
